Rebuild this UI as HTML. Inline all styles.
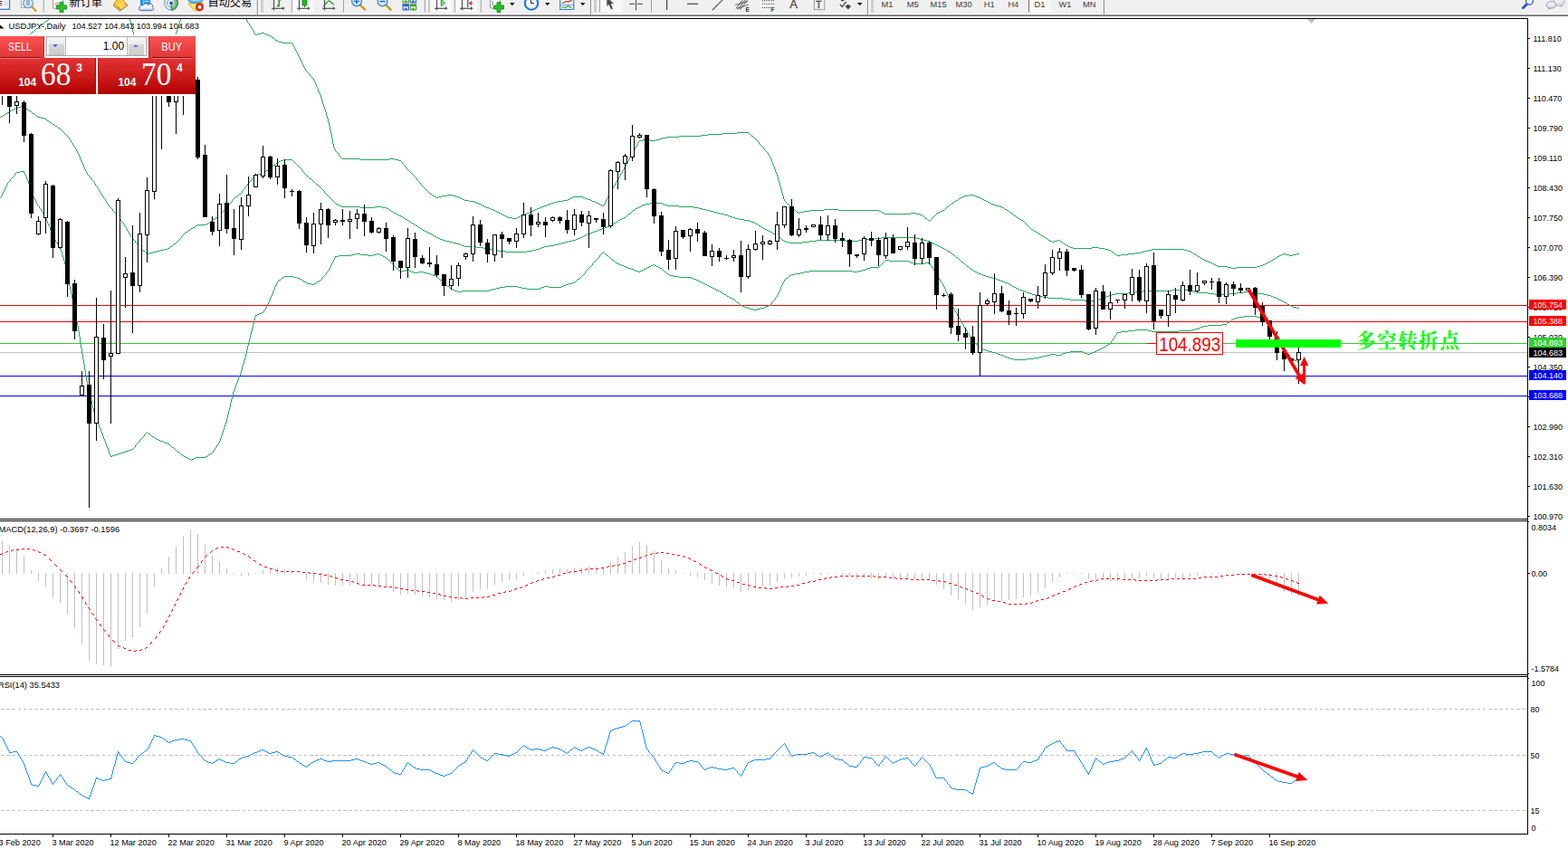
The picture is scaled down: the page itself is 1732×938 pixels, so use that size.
<!DOCTYPE html>
<html><head><meta charset="utf-8"><title>USDJPY Daily</title>
<style>
html,body{margin:0;padding:0;background:#fff;}
body{width:1732px;height:938px;overflow:hidden;position:relative;font-family:"Liberation Sans", sans-serif;}
#tb{position:absolute;left:0;top:0;width:1732px;height:18px;background:#f0f0f0;overflow:hidden}
#tb .l1{position:absolute;left:0;top:15px;width:100%;height:1px;background:#f6f6f6}
#tb .l2{position:absolute;left:0;top:16px;width:100%;height:1px;background:#a0a0a0}
#tb .l3{position:absolute;left:0;top:17px;width:100%;height:1px;background:#696969}
</style></head><body>
<svg width="1732" height="938" viewBox="0 0 1732 938" style="position:absolute;left:0;top:0"><g shape-rendering="crispEdges">
<rect x="0" y="20" width="1688" height="1" fill="#000"/>
<rect x="1687" y="20" width="1" height="902" fill="#000"/>
<rect x="0" y="573" width="1688" height="1" fill="#000"/>
<rect x="0" y="575" width="1688" height="1" fill="#000"/>
<rect x="0" y="745" width="1688" height="1" fill="#000"/>
<rect x="0" y="747" width="1688" height="1" fill="#000"/>
<rect x="0" y="921" width="1688" height="1" fill="#000"/>
<rect x="0" y="337" width="1687" height="1" fill="#ff0000"/>
<rect x="0" y="355" width="1687" height="1" fill="#ff0000"/>
<rect x="0" y="379" width="1687" height="1" fill="#32cd32"/>
<rect x="0" y="389" width="1687" height="1" fill="#c0c0c0"/>
<rect x="0" y="415" width="1687" height="1" fill="#0000ff"/>
<rect x="0" y="437" width="1687" height="1" fill="#0000ff"/>
</g>
<line x1="1" y1="783.5" x2="1687" y2="783.5" stroke="#c0c0c0" stroke-width="1" stroke-dasharray="3.5 2.7" shape-rendering="crispEdges"/>
<line x1="1" y1="834.5" x2="1687" y2="834.5" stroke="#c0c0c0" stroke-width="1" stroke-dasharray="3.5 2.7" shape-rendering="crispEdges"/>
<line x1="1" y1="895.5" x2="1687" y2="895.5" stroke="#c0c0c0" stroke-width="1" stroke-dasharray="3.5 2.7" shape-rendering="crispEdges"/>
<defs><clipPath id="cm"><rect x="0" y="21" width="1687" height="552"/></clipPath></defs>
<g clip-path="url(#cm)" shape-rendering="crispEdges" fill="none" stroke-width="1">
<path d="M206 10.5h60M60 12.5h77M50 23.5h2M45 27.5h2M40 31.5h2M35 35.5h2M288 36.5h4M284 37.5h4M292 37.5h2M282 38.5h2M294 38.5h3M297 39.5h2M300 41.5h2M0 42.5h3M3 43.5h5M8 44.5h4M304 44.5h2M12 45.5h5M306 45.5h2M17 46.5h5M308 46.5h4M22 47.5h3M312 47.5h11M163 81.5h2M814 146.5h13M798 147.5h16M782 148.5h16M774 149.5h8M750 150.5h24M830 150.5h2M736 151.5h14M732 152.5h4M728 153.5h4M710 154.5h8M724 154.5h4M706 155.5h4M718 155.5h6M378 175.5h20M430 175.5h6M398 176.5h32M436 176.5h4M440 177.5h3M475 214.5h2M494 215.5h6M1070 215.5h6M478 216.5h2M488 216.5h6M500 216.5h4M1065 216.5h5M1076 216.5h2M480 217.5h2M484 217.5h4M504 217.5h3M633 217.5h11M1063 217.5h2M1078 217.5h3M482 218.5h2M507 218.5h2M631 218.5h2M644 218.5h2M1061 218.5h2M1081 218.5h2M509 219.5h2M629 219.5h2M646 219.5h3M1059 219.5h2M1083 219.5h2M511 220.5h2M627 220.5h2M649 220.5h3M1085 220.5h2M513 221.5h5M622 221.5h5M652 221.5h2M1056 221.5h2M1087 221.5h2M518 222.5h6M616 222.5h6M654 222.5h3M1054 222.5h2M1089 222.5h2M524 223.5h2M612 223.5h4M657 223.5h2M1091 223.5h2M526 224.5h3M609 224.5h3M659 224.5h2M1051 224.5h2M1093 224.5h2M529 225.5h2M606 225.5h3M661 225.5h2M1095 225.5h2M531 226.5h2M604 226.5h2M663 226.5h2M1097 226.5h3M533 227.5h2M601 227.5h3M665 227.5h2M1100 227.5h4M535 228.5h2M598 228.5h3M1046 228.5h2M1104 228.5h3M537 229.5h3M596 229.5h2M1107 229.5h2M540 230.5h2M593 230.5h3M542 231.5h3M591 231.5h2M876 231.5h2M910 231.5h16M1110 231.5h2M545 232.5h2M589 232.5h2M894 232.5h16M926 232.5h45M1041 232.5h2M1112 232.5h2M547 233.5h2M587 233.5h2M888 233.5h6M971 233.5h2M1039 233.5h2M549 234.5h2M585 234.5h2M880 234.5h2M884 234.5h4M973 234.5h2M1037 234.5h2M551 235.5h2M582 235.5h3M882 235.5h2M975 235.5h2M1006 235.5h6M1035 235.5h2M1116 235.5h2M553 236.5h2M580 236.5h2M977 236.5h29M1012 236.5h4M555 237.5h2M577 237.5h3M1016 237.5h3M557 238.5h2M575 238.5h2M1120 238.5h2M559 239.5h2M573 239.5h2M561 240.5h5M571 240.5h2M1123 240.5h2M566 241.5h5M1022 241.5h2M1126 242.5h2M1128 243.5h2M1139 253.5h2M1142 255.5h2M1144 256.5h2M1147 258.5h2M1150 260.5h2M1152 261.5h2M1155 263.5h2M1158 265.5h2M1168 265.5h3M1160 266.5h2M1164 266.5h4M1162 267.5h2M1172 267.5h2M1176 270.5h2M1178 271.5h2M1180 272.5h2M1182 273.5h3M1206 273.5h8M1185 274.5h21M1214 274.5h6M1220 275.5h4M1272 275.5h36M1224 276.5h3M1268 276.5h4M1308 276.5h4M1264 277.5h4M1312 277.5h3M1228 278.5h2M1260 278.5h4M1315 278.5h2M1254 279.5h6M1246 280.5h8M1318 280.5h2M1417 280.5h3M1432 280.5h3M1232 281.5h2M1238 281.5h8M1320 281.5h2M1415 281.5h2M1420 281.5h4M1428 281.5h4M1234 282.5h4M1413 282.5h2M1424 282.5h4M1323 283.5h2M1411 283.5h2M1326 285.5h2M1408 285.5h2M1328 286.5h2M1406 286.5h2M1330 287.5h2M1332 288.5h2M1403 288.5h2M1334 289.5h3M1401 289.5h2M1337 290.5h2M1399 290.5h2M1339 291.5h2M1397 291.5h2M1341 292.5h2M1395 292.5h2M1343 293.5h2M1392 293.5h3M1345 294.5h11M1388 294.5h4M1356 295.5h4M1366 295.5h22M1360 296.5h6M25.5 46v1M26.5 45v1M27.5 44v1M28.5 43v1M29.5 41v2M30.5 40v1M31.5 39v1M32.5 38v1M33.5 37v1M34.5 36v1M37.5 34v1M38.5 33v1M39.5 32v1M42.5 30v1M43.5 29v1M44.5 28v1M47.5 26v1M48.5 25v1M49.5 24v1M52.5 22v1M53.5 21v1M54.5 20v1M55.5 18v2M56.5 17v1M57.5 16v1M58.5 14v2M59.5 13v1M137.5 13v1M138.5 14v2M139.5 16v1M140.5 17v1M141.5 18v2M142.5 20v1M143.5 21v2M144.5 23v4M145.5 27v4M146.5 31v4M147.5 35v4M148.5 39v3M149.5 42v3M150.5 45v2M151.5 47v3M152.5 50v3M153.5 53v3M154.5 56v3M155.5 59v2M156.5 61v3M157.5 64v3M158.5 67v3M159.5 70v3M160.5 73v2M161.5 75v3M162.5 78v3M163.5 82v1M165.5 80v1M166.5 79v1M167.5 78v1M168.5 77v1M169.5 76v1M170.5 75v1M171.5 74v1M172.5 73v1M173.5 72v1M174.5 71v1M175.5 69v2M176.5 68v1M177.5 67v1M178.5 66v1M179.5 65v1M180.5 64v1M181.5 63v1M182.5 62v1M183.5 61v1M184.5 60v1M185.5 59v1M186.5 57v2M187.5 55v2M188.5 52v3M189.5 49v3M190.5 47v2M191.5 44v3M192.5 41v3M193.5 39v2M194.5 36v3M195.5 33v3M196.5 30v3M197.5 26v4M198.5 23v3M199.5 21v2M200.5 19v2M201.5 18v1M202.5 16v2M203.5 14v2M204.5 13v1M205.5 11v2M266.5 11v2M267.5 13v2M268.5 15v1M269.5 16v2M270.5 18v2M271.5 20v1M272.5 21v2M273.5 23v2M274.5 25v1M275.5 26v2M276.5 28v1M277.5 29v2M278.5 31v2M279.5 33v1M280.5 34v2M281.5 36v2M299.5 40v1M302.5 42v1M303.5 43v1M323.5 48v2M324.5 50v2M325.5 52v2M326.5 54v2M327.5 56v2M328.5 58v2M329.5 60v2M330.5 62v2M331.5 64v2M332.5 66v2M333.5 68v2M334.5 70v2M335.5 72v2M336.5 74v2M337.5 76v2M338.5 78v1M339.5 79v1M340.5 80v1M341.5 81v1M342.5 82v2M343.5 84v1M344.5 85v1M345.5 86v1M346.5 87v2M347.5 89v2M348.5 91v2M349.5 93v3M350.5 96v2M351.5 98v3M352.5 101v2M353.5 103v2M354.5 105v3M355.5 108v3M356.5 111v4M357.5 115v3M358.5 118v3M359.5 121v3M360.5 124v4M361.5 128v3M362.5 131v4M363.5 135v4M364.5 139v5M365.5 144v4M366.5 148v5M367.5 153v6M368.5 159v4M369.5 163v2M370.5 165v2M371.5 167v1M372.5 168v1M373.5 169v1M374.5 170v2M375.5 172v1M376.5 173v1M377.5 174v1M443.5 178v1M444.5 179v2M445.5 181v1M446.5 182v1M447.5 183v1M448.5 184v2M449.5 186v1M450.5 187v1M451.5 188v1M452.5 189v1M453.5 190v1M454.5 191v1M455.5 192v1M456.5 193v1M457.5 194v1M458.5 195v1M459.5 196v1M460.5 197v2M461.5 199v1M462.5 200v1M463.5 201v1M464.5 202v2M465.5 204v1M466.5 205v1M467.5 206v1M468.5 207v1M469.5 208v1M470.5 209v1M471.5 210v1M472.5 211v1M473.5 212v1M474.5 213v1M477.5 215v1M667.5 225v2M668.5 223v2M669.5 221v2M670.5 219v2M671.5 217v2M672.5 215v2M673.5 213v2M674.5 212v1M675.5 210v2M676.5 208v2M677.5 206v2M678.5 205v1M679.5 203v2M680.5 201v2M681.5 199v2M682.5 198v1M683.5 196v2M684.5 194v2M685.5 192v2M686.5 191v1M687.5 189v2M688.5 187v2M689.5 185v2M690.5 184v1M691.5 182v2M692.5 180v2M693.5 178v2M694.5 176v2M695.5 174v2M696.5 172v2M697.5 170v2M698.5 169v1M699.5 167v2M700.5 165v2M701.5 163v2M702.5 162v1M703.5 160v2M704.5 158v2M705.5 156v2M827.5 147v1M828.5 148v1M829.5 149v1M832.5 151v1M833.5 152v1M834.5 153v1M835.5 154v1M836.5 155v1M837.5 156v1M838.5 157v2M839.5 159v1M840.5 160v1M841.5 161v1M842.5 162v1M843.5 163v1M844.5 164v2M845.5 166v1M846.5 167v1M847.5 168v1M848.5 169v2M849.5 171v1M850.5 172v2M851.5 174v2M852.5 176v3M853.5 179v3M854.5 182v2M855.5 184v3M856.5 187v3M857.5 190v2M858.5 192v3M859.5 195v4M860.5 199v3M861.5 202v4M862.5 206v3M863.5 209v4M864.5 213v3M865.5 216v4M866.5 220v2M867.5 222v1M868.5 223v1M869.5 224v1M870.5 225v1M871.5 226v1M872.5 227v1M873.5 228v1M874.5 229v1M875.5 230v1M878.5 232v1M879.5 233v1M1019.5 238v1M1020.5 239v1M1021.5 240v1M1024.5 242v1M1025.5 243v1M1026.5 244v1M1027.5 243v1M1028.5 242v1M1029.5 241v1M1030.5 240v1M1031.5 239v1M1032.5 238v1M1033.5 237v1M1034.5 236v1M1043.5 231v1M1044.5 230v1M1045.5 229v1M1048.5 227v1M1049.5 226v1M1050.5 225v1M1053.5 223v1M1058.5 220v1M1109.5 230v1M1114.5 233v1M1115.5 234v1M1118.5 236v1M1119.5 237v1M1122.5 239v1M1125.5 241v1M1130.5 244v1M1131.5 245v1M1132.5 246v1M1133.5 247v1M1134.5 248v1M1135.5 249v1M1136.5 250v1M1137.5 251v1M1138.5 252v1M1141.5 254v1M1146.5 257v1M1149.5 259v1M1154.5 262v1M1157.5 264v1M1171.5 266v1M1174.5 268v1M1175.5 269v1M1227.5 277v1M1230.5 279v1M1231.5 280v1M1317.5 279v1M1322.5 282v1M1325.5 284v1M1405.5 287v1M1410.5 284v1" stroke="#26a85c"/>
<path d="M23 117.5h2M20 118.5h3M25 118.5h2M17 119.5h3M27 119.5h2M15 120.5h2M29 120.5h2M13 121.5h2M11 122.5h2M32 122.5h2M8 124.5h2M6 125.5h2M36 125.5h2M3 127.5h2M1 128.5h2M40 128.5h2M42 129.5h3M45 130.5h4M49 131.5h2M52 133.5h2M55 135.5h2M58 137.5h2M61 139.5h2M64 141.5h2M313 176.5h10M310 177.5h3M308 178.5h2M306 179.5h2M302 182.5h2M296 187.5h2M294 188.5h2M291 190.5h2M288 191.5h3M284 192.5h4M282 193.5h2M342 197.5h2M350 204.5h2M264 214.5h2M260 217.5h2M718 224.5h14M371 225.5h2M713 225.5h5M732 225.5h2M373 226.5h2M710 226.5h3M734 226.5h3M375 227.5h2M708 227.5h2M737 227.5h13M377 228.5h21M414 228.5h8M706 228.5h2M750 228.5h16M398 229.5h16M422 229.5h5M704 229.5h2M766 229.5h6M427 230.5h2M702 230.5h2M772 230.5h4M776 231.5h4M430 232.5h2M699 232.5h2M780 232.5h4M432 233.5h2M784 233.5h4M788 234.5h4M435 235.5h2M792 235.5h4M437 236.5h2M694 236.5h2M796 236.5h4M439 237.5h2M800 237.5h4M441 238.5h2M804 238.5h2M443 239.5h2M806 239.5h3M238 240.5h2M689 240.5h2M809 240.5h3M446 241.5h2M687 241.5h2M812 241.5h4M235 242.5h2M448 242.5h2M685 242.5h2M816 242.5h6M683 243.5h2M822 243.5h6M451 244.5h2M828 244.5h2M231 245.5h2M680 245.5h2M830 245.5h3M454 246.5h2M678 246.5h2M833 246.5h2M228 247.5h2M456 247.5h2M835 247.5h2M218 248.5h10M675 248.5h2M216 249.5h2M459 249.5h2M673 249.5h2M838 249.5h2M670 250.5h3M840 250.5h2M213 251.5h2M462 251.5h2M668 251.5h2M211 252.5h2M464 252.5h2M665 252.5h3M843 252.5h2M662 253.5h3M845 253.5h2M208 254.5h2M467 254.5h2M660 254.5h2M847 254.5h2M469 255.5h2M657 255.5h3M849 255.5h2M205 256.5h2M471 256.5h2M654 256.5h3M851 256.5h2M473 257.5h2M652 257.5h2M475 258.5h2M649 258.5h3M854 258.5h2M647 259.5h2M856 259.5h2M478 260.5h2M645 260.5h2M480 261.5h2M643 261.5h2M482 262.5h2M641 262.5h2M860 262.5h2M974 262.5h38M484 263.5h2M638 263.5h3M966 263.5h8M1012 263.5h4M486 264.5h3M636 264.5h2M952 264.5h14M1016 264.5h4M489 265.5h3M632 265.5h4M864 265.5h2M902 265.5h32M948 265.5h4M1020 265.5h4M492 266.5h4M628 266.5h4M866 266.5h2M894 266.5h8M934 266.5h14M1024 266.5h3M496 267.5h4M624 267.5h4M868 267.5h4M886 267.5h8M1027 267.5h2M500 268.5h4M620 268.5h4M872 268.5h14M1029 268.5h2M192 269.5h2M504 269.5h4M616 269.5h4M1031 269.5h2M508 270.5h2M612 270.5h4M1033 270.5h2M510 271.5h3M606 271.5h6M1035 271.5h2M188 272.5h2M513 272.5h13M601 272.5h5M1037 272.5h2M526 273.5h8M598 273.5h3M1039 273.5h2M185 274.5h2M534 274.5h6M596 274.5h2M1041 274.5h2M181 275.5h4M540 275.5h4M592 275.5h4M1043 275.5h2M177 276.5h4M544 276.5h6M588 276.5h4M158 277.5h2M173 277.5h4M550 277.5h8M582 277.5h6M1046 277.5h2M169 278.5h4M558 278.5h24M1048 278.5h2M161 279.5h2M165 279.5h4M163 280.5h2M1052 281.5h2M1056 284.5h2M1062 289.5h2M1068 294.5h2M1072 297.5h2M1075 299.5h2M1077 300.5h2M1079 301.5h2M1081 302.5h3M1084 303.5h2M1086 304.5h3M1089 305.5h3M1092 306.5h4M1096 307.5h4M1100 308.5h2M1102 309.5h3M1105 310.5h3M1108 311.5h2M1110 312.5h3M1113 313.5h2M1115 314.5h2M1118 316.5h2M1120 317.5h2M1122 318.5h2M1124 319.5h2M1126 320.5h3M1294 320.5h22M1129 321.5h3M1262 321.5h32M1316 321.5h2M1132 322.5h2M1254 322.5h8M1318 322.5h3M1374 322.5h8M1134 323.5h3M1246 323.5h8M1321 323.5h13M1366 323.5h8M1382 323.5h8M1137 324.5h3M1232 324.5h14M1334 324.5h8M1358 324.5h8M1390 324.5h6M1140 325.5h4M1228 325.5h4M1342 325.5h16M1396 325.5h4M1144 326.5h4M1225 326.5h3M1400 326.5h4M1148 327.5h4M1222 327.5h3M1404 327.5h2M1152 328.5h6M1220 328.5h2M1406 328.5h3M1158 329.5h16M1217 329.5h3M1409 329.5h2M1174 330.5h8M1214 330.5h3M1411 330.5h2M1182 331.5h16M1212 331.5h2M1413 331.5h2M1198 332.5h14M1415 332.5h2M1417 333.5h2M1419 334.5h2M1422 336.5h2M1424 337.5h2M1426 338.5h2M1428 339.5h4M1432 340.5h3M0.5 129v1M5.5 126v1M10.5 123v1M31.5 121v1M34.5 123v1M35.5 124v1M38.5 126v1M39.5 127v1M51.5 132v1M54.5 134v1M57.5 136v1M60.5 138v1M63.5 140v1M66.5 142v1M67.5 143v1M68.5 144v1M69.5 145v1M70.5 146v1M71.5 147v1M72.5 148v1M73.5 149v1M74.5 150v1M75.5 151v1M76.5 152v2M77.5 154v1M78.5 155v2M79.5 157v1M80.5 158v2M81.5 160v2M82.5 162v1M83.5 163v2M84.5 165v2M85.5 167v2M86.5 169v2M87.5 171v2M88.5 173v3M89.5 176v2M90.5 178v2M91.5 180v2M92.5 182v3M93.5 185v2M94.5 187v2M95.5 189v2M96.5 191v2M97.5 193v1M98.5 194v1M99.5 195v1M100.5 196v2M101.5 198v1M102.5 199v1M103.5 200v1M104.5 201v2M105.5 203v2M106.5 205v1M107.5 206v2M108.5 208v1M109.5 209v2M110.5 211v2M111.5 213v1M112.5 214v2M113.5 216v1M114.5 217v2M115.5 219v1M116.5 220v2M117.5 222v2M118.5 224v1M119.5 225v2M120.5 227v1M121.5 228v1M122.5 229v1M123.5 230v1M124.5 231v2M125.5 233v1M126.5 234v1M127.5 235v1M128.5 236v1M129.5 237v2M130.5 239v1M131.5 240v1M132.5 241v1M133.5 242v2M134.5 244v1M135.5 245v1M136.5 246v2M137.5 248v2M138.5 250v1M139.5 251v2M140.5 253v2M141.5 255v1M142.5 256v2M143.5 258v2M144.5 260v1M145.5 261v1M146.5 262v2M147.5 264v1M148.5 265v1M149.5 266v2M150.5 268v1M151.5 269v1M152.5 270v1M153.5 271v1M154.5 272v2M155.5 274v1M156.5 275v1M157.5 276v1M160.5 278v1M187.5 273v1M190.5 271v1M191.5 270v1M194.5 268v1M195.5 267v1M196.5 266v1M197.5 265v1M198.5 264v1M199.5 263v1M200.5 261v2M201.5 260v1M202.5 259v1M203.5 258v1M204.5 257v1M207.5 255v1M210.5 253v1M215.5 250v1M230.5 246v1M233.5 244v1M234.5 243v1M237.5 241v1M240.5 239v1M241.5 238v1M242.5 237v1M243.5 236v1M244.5 235v1M245.5 234v1M246.5 233v1M247.5 232v1M248.5 231v1M249.5 230v1M250.5 229v1M251.5 227v2M252.5 226v1M253.5 225v1M254.5 224v1M255.5 223v1M256.5 221v2M257.5 220v1M258.5 219v1M259.5 218v1M262.5 216v1M263.5 215v1M266.5 213v1M267.5 211v2M268.5 210v1M269.5 209v1M270.5 207v2M271.5 206v1M272.5 205v1M273.5 203v2M274.5 202v1M275.5 201v1M276.5 200v1M277.5 199v1M278.5 197v2M279.5 196v1M280.5 195v1M281.5 194v1M293.5 189v1M298.5 186v1M299.5 185v1M300.5 184v1M301.5 183v1M304.5 181v1M305.5 180v1M323.5 177v1M324.5 178v1M325.5 179v1M326.5 180v1M327.5 181v1M328.5 182v1M329.5 183v1M330.5 184v1M331.5 185v1M332.5 186v1M333.5 187v1M334.5 188v2M335.5 190v1M336.5 191v1M337.5 192v1M338.5 193v1M339.5 194v1M340.5 195v1M341.5 196v1M344.5 198v1M345.5 199v1M346.5 200v1M347.5 201v1M348.5 202v1M349.5 203v1M352.5 205v1M353.5 206v1M354.5 207v1M355.5 208v1M356.5 209v1M357.5 210v1M358.5 211v2M359.5 213v1M360.5 214v1M361.5 215v1M362.5 216v1M363.5 217v1M364.5 218v1M365.5 219v1M366.5 220v1M367.5 221v1M368.5 222v1M369.5 223v1M370.5 224v1M429.5 231v1M434.5 234v1M445.5 240v1M450.5 243v1M453.5 245v1M458.5 248v1M461.5 250v1M466.5 253v1M477.5 259v1M677.5 247v1M682.5 244v1M691.5 239v1M692.5 238v1M693.5 237v1M696.5 235v1M697.5 234v1M698.5 233v1M701.5 231v1M837.5 248v1M842.5 251v1M853.5 257v1M858.5 260v1M859.5 261v1M862.5 263v1M863.5 264v1M1045.5 276v1M1050.5 279v1M1051.5 280v1M1054.5 282v1M1055.5 283v1M1058.5 285v1M1059.5 286v1M1060.5 287v1M1061.5 288v1M1064.5 290v1M1065.5 291v1M1066.5 292v1M1067.5 293v1M1070.5 295v1M1071.5 296v1M1074.5 298v1M1117.5 315v1M1421.5 335v1" stroke="#26a85c"/>
<path d="M22 189.5h5M18 190.5h4M392 280.5h6M416 280.5h3M388 281.5h4M398 281.5h8M412 281.5h4M419 281.5h2M374 282.5h14M406 282.5h6M421 282.5h2M670 282.5h2M370 283.5h4M423 283.5h2M425 284.5h2M676 287.5h2M978 287.5h4M982 288.5h22M1004 289.5h2M680 290.5h2M1006 290.5h3M1022 290.5h5M682 291.5h2M1009 291.5h13M684 292.5h2M721 292.5h2M686 293.5h3M719 293.5h2M723 293.5h2M689 294.5h3M717 294.5h2M725 294.5h2M692 295.5h2M715 295.5h2M727 295.5h2M961 295.5h10M694 296.5h3M713 296.5h2M729 296.5h2M958 296.5h3M697 297.5h3M711 297.5h2M956 297.5h2M448 298.5h4M700 298.5h2M709 298.5h2M952 298.5h4M444 299.5h4M452 299.5h2M702 299.5h3M707 299.5h2M894 299.5h48M948 299.5h4M442 300.5h2M454 300.5h3M462 300.5h6M705 300.5h2M734 300.5h2M888 300.5h6M942 300.5h6M457 301.5h5M468 301.5h4M884 301.5h4M472 302.5h4M878 302.5h6M476 303.5h2M738 303.5h2M874 303.5h4M478 304.5h3M740 304.5h4M872 304.5h2M314 305.5h10M481 305.5h2M744 305.5h6M312 306.5h2M324 306.5h4M750 306.5h14M328 307.5h3M764 307.5h2M868 307.5h2M331 308.5h2M638 308.5h2M766 308.5h3M308 309.5h2M486 309.5h2M769 309.5h2M334 310.5h2M352 310.5h2M771 310.5h2M336 311.5h2M350 311.5h2M773 311.5h2M338 312.5h2M632 312.5h3M775 312.5h2M340 313.5h4M347 313.5h2M628 313.5h4M777 313.5h2M344 314.5h3M625 314.5h3M779 314.5h2M622 315.5h3M781 315.5h2M494 316.5h2M558 316.5h14M601 316.5h5M620 316.5h2M783 316.5h2M552 317.5h6M572 317.5h4M598 317.5h3M606 317.5h14M785 317.5h2M548 318.5h4M576 318.5h6M596 318.5h2M787 318.5h2M498 319.5h2M544 319.5h4M582 319.5h14M789 319.5h2M500 320.5h2M540 320.5h4M791 320.5h2M502 321.5h3M510 321.5h30M793 321.5h2M505 322.5h5M795 322.5h2M798 324.5h2M800 325.5h2M803 327.5h2M805 328.5h2M807 329.5h2M809 330.5h2M814 334.5h2M818 337.5h2M849 337.5h2M820 338.5h2M846 338.5h3M822 339.5h3M844 339.5h2M825 340.5h3M840 340.5h4M828 341.5h4M836 341.5h4M832 342.5h4M289 345.5h2M286 346.5h3M284 347.5h2M282 348.5h2M1374 349.5h14M1368 350.5h6M1388 350.5h4M1364 351.5h4M1392 351.5h3M1362 352.5h2M1360 353.5h2M1356 356.5h2M1350 358.5h5M1334 359.5h16M1329 360.5h5M1326 361.5h3M1324 362.5h2M1320 363.5h4M1254 364.5h14M1316 364.5h4M1246 365.5h8M1268 365.5h4M1302 365.5h14M1238 366.5h8M1272 366.5h30M1234 367.5h4M1224 380.5h2M1222 381.5h2M1219 383.5h2M1082 384.5h2M1217 384.5h2M1084 385.5h2M1215 385.5h2M1086 386.5h3M1213 386.5h2M1089 387.5h3M1211 387.5h2M1092 388.5h4M1182 388.5h14M1209 388.5h2M1096 389.5h4M1177 389.5h5M1196 389.5h2M1206 389.5h3M1100 390.5h2M1174 390.5h3M1198 390.5h3M1204 390.5h2M1102 391.5h3M1160 391.5h6M1172 391.5h2M1201 391.5h3M1105 392.5h3M1156 392.5h4M1166 392.5h6M1108 393.5h2M1152 393.5h4M1110 394.5h3M1148 394.5h4M1113 395.5h3M1142 395.5h6M1116 396.5h4M1134 396.5h8M1427 396.5h2M1120 397.5h14M1430 398.5h2M1432 399.5h2M164 479.5h2M168 482.5h2M171 484.5h2M173 485.5h2M175 486.5h2M177 487.5h3M180 488.5h2M182 489.5h3M185 490.5h2M190 494.5h2M145 496.5h2M142 497.5h3M139 498.5h3M136 499.5h3M196 499.5h2M133 500.5h3M130 501.5h3M232 501.5h2M127 502.5h3M200 502.5h2M230 502.5h2M124 503.5h3M122 504.5h2M203 504.5h2M227 504.5h2M205 505.5h2M216 505.5h11M207 506.5h2M214 506.5h2M209 507.5h2M212 507.5h2M0.5 218v1M1.5 216v2M2.5 214v2M3.5 212v2M4.5 210v2M5.5 208v2M6.5 206v2M7.5 204v2M8.5 202v2M9.5 201v1M10.5 200v1M11.5 198v2M12.5 197v1M13.5 196v1M14.5 195v1M15.5 194v1M16.5 192v2M17.5 191v1M26.5 190v1M27.5 191v2M28.5 193v2M29.5 195v3M30.5 198v2M31.5 200v3M32.5 203v3M33.5 206v3M34.5 209v3M35.5 212v3M36.5 215v2M37.5 217v2M38.5 219v2M39.5 221v2M40.5 223v2M41.5 225v2M42.5 227v1M43.5 228v2M44.5 230v1M45.5 231v2M46.5 233v1M47.5 234v2M48.5 236v2M49.5 238v2M50.5 240v2M51.5 242v2M52.5 244v3M53.5 247v2M54.5 249v2M55.5 251v3M56.5 254v2M57.5 256v2M58.5 258v3M59.5 261v2M60.5 263v2M61.5 265v2M62.5 267v1M63.5 268v2M64.5 270v1M65.5 271v2M66.5 273v2M67.5 275v3M68.5 278v4M69.5 282v3M70.5 285v3M71.5 288v4M72.5 292v4M73.5 296v5M74.5 301v5M75.5 306v5M76.5 311v5M77.5 316v4M78.5 320v5M79.5 325v5M80.5 330v5M81.5 335v5M82.5 340v5M83.5 345v5M84.5 350v5M85.5 355v5M86.5 360v6M87.5 366v6M88.5 372v7M89.5 379v6M90.5 385v6M91.5 391v6M92.5 397v6M93.5 403v6M94.5 409v6M95.5 415v6M96.5 421v6M97.5 427v4M98.5 431v4M99.5 435v4M100.5 439v4M101.5 443v4M102.5 447v4M103.5 451v4M104.5 455v4M105.5 459v3M106.5 462v2M107.5 464v3M108.5 467v2M109.5 469v3M110.5 472v2M111.5 474v3M112.5 477v2M113.5 479v3M114.5 482v3M115.5 485v2M116.5 487v3M117.5 490v3M118.5 493v2M119.5 495v3M120.5 498v3M121.5 501v2M122.5 503v1M147.5 495v1M148.5 494v1M149.5 492v2M150.5 491v1M151.5 490v1M152.5 489v1M153.5 488v1M154.5 486v2M155.5 485v1M156.5 484v1M157.5 483v1M158.5 482v1M159.5 480v2M160.5 479v1M161.5 478v1M162.5 477v1M163.5 478v1M166.5 480v1M167.5 481v1M170.5 483v1M187.5 491v1M188.5 492v1M189.5 493v1M192.5 495v1M193.5 496v1M194.5 497v1M195.5 498v1M198.5 500v1M199.5 501v1M202.5 503v1M211.5 508v1M229.5 503v1M234.5 500v1M235.5 498v2M236.5 497v1M237.5 495v2M238.5 494v1M239.5 492v2M240.5 491v1M241.5 489v2M242.5 487v2M243.5 484v3M244.5 481v3M245.5 478v3M246.5 475v3M247.5 472v3M248.5 469v3M249.5 466v3M250.5 462v4M251.5 458v4M252.5 454v4M253.5 450v4M254.5 445v5M255.5 441v4M256.5 437v4M257.5 433v4M258.5 431v2M259.5 428v3M260.5 425v3M261.5 423v2M262.5 420v3M263.5 417v3M264.5 415v2M265.5 412v3M266.5 409v3M267.5 405v4M268.5 402v3M269.5 398v4M270.5 395v3M271.5 391v4M272.5 387v4M273.5 382v5M274.5 378v4M275.5 374v4M276.5 370v4M277.5 366v4M278.5 362v4M279.5 358v4M280.5 354v4M281.5 350v4M282.5 349v1M291.5 343v2M292.5 342v1M293.5 340v2M294.5 338v2M295.5 336v2M296.5 334v2M297.5 332v2M298.5 329v3M299.5 327v2M300.5 325v2M301.5 322v3M302.5 320v2M303.5 317v3M304.5 315v2M305.5 313v2M306.5 311v2M307.5 310v1M310.5 308v1M311.5 307v1M333.5 309v1M349.5 312v1M354.5 309v1M355.5 308v1M356.5 306v2M357.5 305v1M358.5 304v1M359.5 303v1M360.5 301v2M361.5 300v1M362.5 299v1M363.5 297v2M364.5 295v2M365.5 293v2M366.5 291v2M367.5 289v2M368.5 287v2M369.5 285v2M370.5 284v1M427.5 285v1M428.5 286v1M429.5 287v1M430.5 288v1M431.5 289v1M432.5 290v1M433.5 291v1M434.5 292v1M435.5 293v1M436.5 294v1M437.5 295v1M438.5 296v1M439.5 297v1M440.5 298v1M441.5 299v1M483.5 306v1M484.5 307v1M485.5 308v1M488.5 310v1M489.5 311v1M490.5 312v1M491.5 313v1M492.5 314v1M493.5 315v1M496.5 317v1M497.5 318v1M635.5 311v1M636.5 310v1M637.5 309v1M640.5 307v1M641.5 306v1M642.5 305v1M643.5 304v1M644.5 303v1M645.5 302v1M646.5 300v2M647.5 299v1M648.5 298v1M649.5 297v1M650.5 296v1M651.5 295v1M652.5 294v1M653.5 293v1M654.5 291v2M655.5 290v1M656.5 289v1M657.5 288v1M658.5 287v1M659.5 286v1M660.5 285v1M661.5 284v1M662.5 282v2M663.5 281v1M664.5 280v1M665.5 279v1M666.5 278v1M667.5 279v1M668.5 280v1M669.5 281v1M672.5 283v1M673.5 284v1M674.5 285v1M675.5 286v1M678.5 288v1M679.5 289v1M731.5 297v1M732.5 298v1M733.5 299v1M736.5 301v1M737.5 302v1M797.5 323v1M802.5 326v1M811.5 331v1M812.5 332v1M813.5 333v1M816.5 335v1M817.5 336v1M851.5 336v1M852.5 334v2M853.5 333v1M854.5 332v1M855.5 331v1M856.5 329v2M857.5 328v1M858.5 326v2M859.5 324v2M860.5 322v2M861.5 320v2M862.5 317v3M863.5 315v2M864.5 313v2M865.5 311v2M866.5 309v2M867.5 308v1M870.5 306v1M871.5 305v1M971.5 294v1M972.5 293v1M973.5 292v1M974.5 291v1M975.5 290v1M976.5 289v1M977.5 288v1M1027.5 291v2M1028.5 293v1M1029.5 294v2M1030.5 296v1M1031.5 297v2M1032.5 299v1M1033.5 300v2M1034.5 302v1M1035.5 303v2M1036.5 305v2M1037.5 307v2M1038.5 309v2M1039.5 311v1M1040.5 312v1M1041.5 313v2M1042.5 315v2M1043.5 317v2M1044.5 319v3M1045.5 322v2M1046.5 324v3M1047.5 327v2M1048.5 329v3M1049.5 332v2M1050.5 334v2M1051.5 336v2M1052.5 338v2M1053.5 340v1M1054.5 341v2M1055.5 343v2M1056.5 345v2M1057.5 347v2M1058.5 349v1M1059.5 350v2M1060.5 352v2M1061.5 354v2M1062.5 356v1M1063.5 357v2M1064.5 359v2M1065.5 361v2M1066.5 363v1M1067.5 364v2M1068.5 366v2M1069.5 368v1M1070.5 369v2M1071.5 371v1M1072.5 372v2M1073.5 374v2M1074.5 376v1M1075.5 377v1M1076.5 378v1M1077.5 379v1M1078.5 380v1M1079.5 381v1M1080.5 382v1M1081.5 383v1M1221.5 382v1M1226.5 379v1M1227.5 377v2M1228.5 376v1M1229.5 374v2M1230.5 373v1M1231.5 371v2M1232.5 370v1M1233.5 368v2M1355.5 357v1M1358.5 355v1M1359.5 354v1M1395.5 352v1M1396.5 353v2M1397.5 355v1M1398.5 356v1M1399.5 357v1M1400.5 358v2M1401.5 360v1M1402.5 361v1M1403.5 362v2M1404.5 364v1M1405.5 365v2M1406.5 367v1M1407.5 368v2M1408.5 370v1M1409.5 371v2M1410.5 373v1M1411.5 374v2M1412.5 376v1M1413.5 377v2M1414.5 379v1M1415.5 380v2M1416.5 382v1M1417.5 383v2M1418.5 385v1M1419.5 386v1M1420.5 387v2M1421.5 389v1M1422.5 390v1M1423.5 391v1M1424.5 392v2M1425.5 394v1M1426.5 395v1M1429.5 397v1M1434.5 400v1" stroke="#26a85c"/>
</g>
<g shape-rendering="crispEdges" clip-path="url(#cm)">
<rect x="2" y="60" width="1" height="56" fill="#000"/>
<rect x="0" y="70" width="5" height="30" fill="#000"/>
<rect x="10" y="80" width="1" height="56" fill="#000"/>
<rect x="8" y="95" width="5" height="23" fill="#000"/>
<rect x="18" y="95" width="1" height="31" fill="#000"/>
<rect x="16" y="112" width="5" height="5" fill="#000"/>
<rect x="17" y="113" width="3" height="3" fill="#fff"/>
<rect x="26" y="111" width="1" height="46" fill="#000"/>
<rect x="24" y="113" width="5" height="37" fill="#000"/>
<rect x="34" y="147" width="1" height="94" fill="#000"/>
<rect x="32" y="148" width="5" height="88" fill="#000"/>
<rect x="42" y="239" width="1" height="21" fill="#000"/>
<rect x="40" y="244" width="5" height="15" fill="#000"/>
<rect x="41" y="245" width="3" height="13" fill="#fff"/>
<rect x="50" y="200" width="1" height="58" fill="#000"/>
<rect x="48" y="203" width="5" height="38" fill="#000"/>
<rect x="49" y="204" width="3" height="36" fill="#fff"/>
<rect x="58" y="204" width="1" height="81" fill="#000"/>
<rect x="56" y="205" width="5" height="69" fill="#000"/>
<rect x="66" y="241" width="1" height="34" fill="#000"/>
<rect x="64" y="242" width="5" height="32" fill="#000"/>
<rect x="65" y="243" width="3" height="30" fill="#fff"/>
<rect x="74" y="244" width="1" height="84" fill="#000"/>
<rect x="72" y="245" width="5" height="69" fill="#000"/>
<rect x="82" y="309" width="1" height="66" fill="#000"/>
<rect x="80" y="313" width="5" height="53" fill="#000"/>
<rect x="90" y="410" width="1" height="28" fill="#000"/>
<rect x="88" y="426" width="5" height="11" fill="#000"/>
<rect x="89" y="427" width="3" height="9" fill="#fff"/>
<rect x="98" y="410" width="1" height="151" fill="#000"/>
<rect x="96" y="425" width="5" height="43" fill="#000"/>
<rect x="106" y="329" width="1" height="158" fill="#000"/>
<rect x="104" y="372" width="5" height="96" fill="#000"/>
<rect x="105" y="373" width="3" height="94" fill="#fff"/>
<rect x="114" y="358" width="1" height="61" fill="#000"/>
<rect x="112" y="373" width="5" height="25" fill="#000"/>
<rect x="122" y="321" width="1" height="147" fill="#000"/>
<rect x="120" y="390" width="5" height="4" fill="#000"/>
<rect x="121" y="391" width="3" height="2" fill="#fff"/>
<rect x="130" y="219" width="1" height="172" fill="#000"/>
<rect x="128" y="221" width="5" height="170" fill="#000"/>
<rect x="129" y="222" width="3" height="168" fill="#fff"/>
<rect x="138" y="284" width="1" height="56" fill="#000"/>
<rect x="136" y="302" width="5" height="5" fill="#000"/>
<rect x="137" y="303" width="3" height="3" fill="#fff"/>
<rect x="146" y="249" width="1" height="119" fill="#000"/>
<rect x="144" y="301" width="5" height="15" fill="#000"/>
<rect x="154" y="235" width="1" height="88" fill="#000"/>
<rect x="152" y="258" width="5" height="58" fill="#000"/>
<rect x="153" y="259" width="3" height="56" fill="#fff"/>
<rect x="162" y="196" width="1" height="94" fill="#000"/>
<rect x="160" y="210" width="5" height="50" fill="#000"/>
<rect x="161" y="211" width="3" height="48" fill="#fff"/>
<rect x="170" y="70" width="1" height="150" fill="#000"/>
<rect x="168" y="85" width="5" height="127" fill="#000"/>
<rect x="169" y="86" width="3" height="125" fill="#fff"/>
<rect x="178" y="60" width="1" height="105" fill="#000"/>
<rect x="176" y="75" width="5" height="26" fill="#000"/>
<rect x="177" y="76" width="3" height="24" fill="#fff"/>
<rect x="186" y="60" width="1" height="58" fill="#000"/>
<rect x="184" y="70" width="5" height="43" fill="#000"/>
<rect x="194" y="55" width="1" height="93" fill="#000"/>
<rect x="192" y="65" width="5" height="48" fill="#000"/>
<rect x="193" y="66" width="3" height="46" fill="#fff"/>
<rect x="202" y="60" width="1" height="67" fill="#000"/>
<rect x="200" y="70" width="5" height="30" fill="#000"/>
<rect x="210" y="50" width="1" height="45" fill="#000"/>
<rect x="208" y="55" width="5" height="34" fill="#000"/>
<rect x="209" y="56" width="3" height="32" fill="#fff"/>
<rect x="218" y="85" width="1" height="91" fill="#000"/>
<rect x="216" y="88" width="5" height="86" fill="#000"/>
<rect x="226" y="160" width="1" height="80" fill="#000"/>
<rect x="224" y="171" width="5" height="69" fill="#000"/>
<rect x="234" y="239" width="1" height="21" fill="#000"/>
<rect x="232" y="245" width="5" height="11" fill="#000"/>
<rect x="242" y="214" width="1" height="58" fill="#000"/>
<rect x="240" y="225" width="5" height="30" fill="#000"/>
<rect x="241" y="226" width="3" height="28" fill="#fff"/>
<rect x="250" y="193" width="1" height="65" fill="#000"/>
<rect x="248" y="224" width="5" height="29" fill="#000"/>
<rect x="258" y="231" width="1" height="51" fill="#000"/>
<rect x="256" y="252" width="5" height="12" fill="#000"/>
<rect x="266" y="218" width="1" height="58" fill="#000"/>
<rect x="264" y="227" width="5" height="38" fill="#000"/>
<rect x="265" y="228" width="3" height="36" fill="#fff"/>
<rect x="274" y="195" width="1" height="44" fill="#000"/>
<rect x="272" y="215" width="5" height="13" fill="#000"/>
<rect x="273" y="216" width="3" height="11" fill="#fff"/>
<rect x="282" y="192" width="1" height="15" fill="#000"/>
<rect x="280" y="193" width="5" height="14" fill="#000"/>
<rect x="281" y="194" width="3" height="12" fill="#fff"/>
<rect x="290" y="161" width="1" height="36" fill="#000"/>
<rect x="288" y="173" width="5" height="22" fill="#000"/>
<rect x="289" y="174" width="3" height="20" fill="#fff"/>
<rect x="298" y="172" width="1" height="26" fill="#000"/>
<rect x="296" y="173" width="5" height="23" fill="#000"/>
<rect x="306" y="175" width="1" height="29" fill="#000"/>
<rect x="304" y="183" width="5" height="13" fill="#000"/>
<rect x="305" y="184" width="3" height="11" fill="#fff"/>
<rect x="314" y="176" width="1" height="43" fill="#000"/>
<rect x="312" y="182" width="5" height="26" fill="#000"/>
<rect x="322" y="209" width="1" height="8" fill="#000"/>
<rect x="320" y="211" width="5" height="1" fill="#000"/>
<rect x="330" y="210" width="1" height="43" fill="#000"/>
<rect x="328" y="211" width="5" height="36" fill="#000"/>
<rect x="338" y="240" width="1" height="39" fill="#000"/>
<rect x="336" y="246" width="5" height="25" fill="#000"/>
<rect x="346" y="235" width="1" height="45" fill="#000"/>
<rect x="344" y="247" width="5" height="25" fill="#000"/>
<rect x="345" y="248" width="3" height="23" fill="#fff"/>
<rect x="354" y="224" width="1" height="46" fill="#000"/>
<rect x="352" y="231" width="5" height="17" fill="#000"/>
<rect x="353" y="232" width="3" height="15" fill="#fff"/>
<rect x="362" y="230" width="1" height="33" fill="#000"/>
<rect x="360" y="231" width="5" height="18" fill="#000"/>
<rect x="370" y="242" width="1" height="7" fill="#000"/>
<rect x="368" y="243" width="5" height="3" fill="#000"/>
<rect x="369" y="244" width="3" height="1" fill="#fff"/>
<rect x="378" y="231" width="1" height="18" fill="#000"/>
<rect x="376" y="243" width="5" height="2" fill="#000"/>
<rect x="386" y="233" width="1" height="31" fill="#000"/>
<rect x="384" y="242" width="5" height="3" fill="#000"/>
<rect x="385" y="243" width="3" height="1" fill="#fff"/>
<rect x="394" y="231" width="1" height="22" fill="#000"/>
<rect x="392" y="236" width="5" height="6" fill="#000"/>
<rect x="393" y="237" width="3" height="4" fill="#fff"/>
<rect x="402" y="226" width="1" height="35" fill="#000"/>
<rect x="400" y="236" width="5" height="9" fill="#000"/>
<rect x="410" y="240" width="1" height="18" fill="#000"/>
<rect x="408" y="244" width="5" height="13" fill="#000"/>
<rect x="418" y="251" width="1" height="7" fill="#000"/>
<rect x="416" y="252" width="5" height="5" fill="#000"/>
<rect x="417" y="253" width="3" height="3" fill="#fff"/>
<rect x="426" y="246" width="1" height="32" fill="#000"/>
<rect x="424" y="252" width="5" height="12" fill="#000"/>
<rect x="434" y="260" width="1" height="39" fill="#000"/>
<rect x="432" y="262" width="5" height="27" fill="#000"/>
<rect x="442" y="288" width="1" height="20" fill="#000"/>
<rect x="440" y="288" width="5" height="8" fill="#000"/>
<rect x="450" y="252" width="1" height="55" fill="#000"/>
<rect x="448" y="263" width="5" height="33" fill="#000"/>
<rect x="449" y="264" width="3" height="31" fill="#fff"/>
<rect x="458" y="257" width="1" height="39" fill="#000"/>
<rect x="456" y="264" width="5" height="20" fill="#000"/>
<rect x="466" y="282" width="1" height="10" fill="#000"/>
<rect x="464" y="285" width="5" height="6" fill="#000"/>
<rect x="474" y="273" width="1" height="22" fill="#000"/>
<rect x="472" y="290" width="5" height="2" fill="#000"/>
<rect x="482" y="282" width="1" height="24" fill="#000"/>
<rect x="480" y="292" width="5" height="12" fill="#000"/>
<rect x="490" y="303" width="1" height="24" fill="#000"/>
<rect x="488" y="303" width="5" height="13" fill="#000"/>
<rect x="498" y="293" width="1" height="27" fill="#000"/>
<rect x="496" y="308" width="5" height="8" fill="#000"/>
<rect x="497" y="309" width="3" height="6" fill="#fff"/>
<rect x="506" y="290" width="1" height="26" fill="#000"/>
<rect x="504" y="293" width="5" height="15" fill="#000"/>
<rect x="505" y="294" width="3" height="13" fill="#fff"/>
<rect x="514" y="279" width="1" height="8" fill="#000"/>
<rect x="512" y="280" width="5" height="4" fill="#000"/>
<rect x="513" y="281" width="3" height="2" fill="#fff"/>
<rect x="522" y="239" width="1" height="50" fill="#000"/>
<rect x="520" y="248" width="5" height="33" fill="#000"/>
<rect x="521" y="249" width="3" height="31" fill="#fff"/>
<rect x="530" y="243" width="1" height="29" fill="#000"/>
<rect x="528" y="248" width="5" height="20" fill="#000"/>
<rect x="538" y="264" width="1" height="26" fill="#000"/>
<rect x="536" y="268" width="5" height="13" fill="#000"/>
<rect x="546" y="259" width="1" height="30" fill="#000"/>
<rect x="544" y="259" width="5" height="23" fill="#000"/>
<rect x="545" y="260" width="3" height="21" fill="#fff"/>
<rect x="554" y="256" width="1" height="29" fill="#000"/>
<rect x="552" y="259" width="5" height="5" fill="#000"/>
<rect x="562" y="263" width="1" height="7" fill="#000"/>
<rect x="560" y="263" width="5" height="4" fill="#000"/>
<rect x="570" y="252" width="1" height="22" fill="#000"/>
<rect x="568" y="258" width="5" height="9" fill="#000"/>
<rect x="569" y="259" width="3" height="7" fill="#fff"/>
<rect x="578" y="224" width="1" height="39" fill="#000"/>
<rect x="576" y="237" width="5" height="22" fill="#000"/>
<rect x="577" y="238" width="3" height="20" fill="#fff"/>
<rect x="586" y="229" width="1" height="32" fill="#000"/>
<rect x="584" y="237" width="5" height="12" fill="#000"/>
<rect x="594" y="235" width="1" height="16" fill="#000"/>
<rect x="592" y="245" width="5" height="3" fill="#000"/>
<rect x="593" y="246" width="3" height="1" fill="#fff"/>
<rect x="602" y="240" width="1" height="22" fill="#000"/>
<rect x="600" y="245" width="5" height="4" fill="#000"/>
<rect x="610" y="239" width="1" height="6" fill="#000"/>
<rect x="608" y="240" width="5" height="4" fill="#000"/>
<rect x="609" y="241" width="3" height="2" fill="#fff"/>
<rect x="618" y="239" width="1" height="8" fill="#000"/>
<rect x="616" y="240" width="5" height="4" fill="#000"/>
<rect x="626" y="232" width="1" height="26" fill="#000"/>
<rect x="624" y="243" width="5" height="11" fill="#000"/>
<rect x="634" y="231" width="1" height="29" fill="#000"/>
<rect x="632" y="237" width="5" height="17" fill="#000"/>
<rect x="633" y="238" width="3" height="15" fill="#fff"/>
<rect x="642" y="233" width="1" height="17" fill="#000"/>
<rect x="640" y="237" width="5" height="9" fill="#000"/>
<rect x="650" y="233" width="1" height="41" fill="#000"/>
<rect x="648" y="238" width="5" height="9" fill="#000"/>
<rect x="649" y="239" width="3" height="7" fill="#fff"/>
<rect x="658" y="241" width="1" height="5" fill="#000"/>
<rect x="656" y="241" width="5" height="2" fill="#000"/>
<rect x="666" y="235" width="1" height="24" fill="#000"/>
<rect x="664" y="242" width="5" height="9" fill="#000"/>
<rect x="674" y="187" width="1" height="65" fill="#000"/>
<rect x="672" y="188" width="5" height="62" fill="#000"/>
<rect x="673" y="189" width="3" height="60" fill="#fff"/>
<rect x="682" y="178" width="1" height="31" fill="#000"/>
<rect x="680" y="179" width="5" height="11" fill="#000"/>
<rect x="681" y="180" width="3" height="9" fill="#fff"/>
<rect x="690" y="170" width="1" height="29" fill="#000"/>
<rect x="688" y="172" width="5" height="9" fill="#000"/>
<rect x="689" y="173" width="3" height="7" fill="#fff"/>
<rect x="698" y="138" width="1" height="40" fill="#000"/>
<rect x="696" y="150" width="5" height="24" fill="#000"/>
<rect x="697" y="151" width="3" height="22" fill="#fff"/>
<rect x="706" y="147" width="1" height="6" fill="#000"/>
<rect x="704" y="149" width="5" height="3" fill="#000"/>
<rect x="705" y="150" width="3" height="1" fill="#fff"/>
<rect x="714" y="149" width="1" height="69" fill="#000"/>
<rect x="712" y="149" width="5" height="60" fill="#000"/>
<rect x="722" y="208" width="1" height="39" fill="#000"/>
<rect x="720" y="209" width="5" height="30" fill="#000"/>
<rect x="730" y="234" width="1" height="49" fill="#000"/>
<rect x="728" y="238" width="5" height="40" fill="#000"/>
<rect x="738" y="265" width="1" height="33" fill="#000"/>
<rect x="736" y="276" width="5" height="11" fill="#000"/>
<rect x="746" y="250" width="1" height="48" fill="#000"/>
<rect x="744" y="255" width="5" height="31" fill="#000"/>
<rect x="745" y="256" width="3" height="29" fill="#fff"/>
<rect x="754" y="254" width="1" height="10" fill="#000"/>
<rect x="752" y="254" width="5" height="8" fill="#000"/>
<rect x="762" y="252" width="1" height="26" fill="#000"/>
<rect x="760" y="253" width="5" height="8" fill="#000"/>
<rect x="761" y="254" width="3" height="6" fill="#fff"/>
<rect x="770" y="246" width="1" height="21" fill="#000"/>
<rect x="768" y="253" width="5" height="5" fill="#000"/>
<rect x="778" y="255" width="1" height="28" fill="#000"/>
<rect x="776" y="257" width="5" height="26" fill="#000"/>
<rect x="786" y="270" width="1" height="24" fill="#000"/>
<rect x="784" y="277" width="5" height="7" fill="#000"/>
<rect x="785" y="278" width="3" height="5" fill="#fff"/>
<rect x="794" y="274" width="1" height="15" fill="#000"/>
<rect x="792" y="277" width="5" height="7" fill="#000"/>
<rect x="802" y="282" width="1" height="5" fill="#000"/>
<rect x="800" y="285" width="5" height="1" fill="#000"/>
<rect x="810" y="276" width="1" height="13" fill="#000"/>
<rect x="808" y="282" width="5" height="3" fill="#000"/>
<rect x="809" y="283" width="3" height="1" fill="#fff"/>
<rect x="818" y="266" width="1" height="57" fill="#000"/>
<rect x="816" y="282" width="5" height="24" fill="#000"/>
<rect x="826" y="270" width="1" height="38" fill="#000"/>
<rect x="824" y="275" width="5" height="31" fill="#000"/>
<rect x="825" y="276" width="3" height="29" fill="#fff"/>
<rect x="834" y="255" width="1" height="22" fill="#000"/>
<rect x="832" y="269" width="5" height="7" fill="#000"/>
<rect x="833" y="270" width="3" height="5" fill="#fff"/>
<rect x="842" y="260" width="1" height="27" fill="#000"/>
<rect x="840" y="267" width="5" height="3" fill="#000"/>
<rect x="841" y="268" width="3" height="1" fill="#fff"/>
<rect x="850" y="265" width="1" height="6" fill="#000"/>
<rect x="848" y="266" width="5" height="4" fill="#000"/>
<rect x="849" y="267" width="3" height="2" fill="#fff"/>
<rect x="858" y="234" width="1" height="42" fill="#000"/>
<rect x="856" y="248" width="5" height="19" fill="#000"/>
<rect x="857" y="249" width="3" height="17" fill="#fff"/>
<rect x="866" y="228" width="1" height="24" fill="#000"/>
<rect x="864" y="228" width="5" height="21" fill="#000"/>
<rect x="865" y="229" width="3" height="19" fill="#fff"/>
<rect x="874" y="220" width="1" height="41" fill="#000"/>
<rect x="872" y="228" width="5" height="32" fill="#000"/>
<rect x="882" y="241" width="1" height="21" fill="#000"/>
<rect x="880" y="253" width="5" height="7" fill="#000"/>
<rect x="881" y="254" width="3" height="5" fill="#fff"/>
<rect x="890" y="249" width="1" height="8" fill="#000"/>
<rect x="888" y="252" width="5" height="2" fill="#000"/>
<rect x="898" y="248" width="1" height="3" fill="#000"/>
<rect x="896" y="248" width="5" height="3" fill="#000"/>
<rect x="897" y="249" width="3" height="1" fill="#fff"/>
<rect x="906" y="239" width="1" height="26" fill="#000"/>
<rect x="904" y="248" width="5" height="12" fill="#000"/>
<rect x="914" y="238" width="1" height="28" fill="#000"/>
<rect x="912" y="249" width="5" height="11" fill="#000"/>
<rect x="913" y="250" width="3" height="9" fill="#fff"/>
<rect x="922" y="242" width="1" height="26" fill="#000"/>
<rect x="920" y="249" width="5" height="15" fill="#000"/>
<rect x="930" y="257" width="1" height="16" fill="#000"/>
<rect x="928" y="263" width="5" height="3" fill="#000"/>
<rect x="938" y="264" width="1" height="31" fill="#000"/>
<rect x="936" y="265" width="5" height="16" fill="#000"/>
<rect x="946" y="281" width="1" height="4" fill="#000"/>
<rect x="944" y="281" width="5" height="2" fill="#000"/>
<rect x="954" y="261" width="1" height="27" fill="#000"/>
<rect x="952" y="263" width="5" height="18" fill="#000"/>
<rect x="953" y="264" width="3" height="16" fill="#fff"/>
<rect x="962" y="256" width="1" height="16" fill="#000"/>
<rect x="960" y="263" width="5" height="3" fill="#000"/>
<rect x="970" y="262" width="1" height="32" fill="#000"/>
<rect x="968" y="265" width="5" height="17" fill="#000"/>
<rect x="978" y="257" width="1" height="29" fill="#000"/>
<rect x="976" y="263" width="5" height="20" fill="#000"/>
<rect x="977" y="264" width="3" height="18" fill="#fff"/>
<rect x="986" y="259" width="1" height="21" fill="#000"/>
<rect x="984" y="263" width="5" height="17" fill="#000"/>
<rect x="994" y="273" width="1" height="4" fill="#000"/>
<rect x="992" y="272" width="5" height="4" fill="#000"/>
<rect x="993" y="273" width="3" height="2" fill="#fff"/>
<rect x="1002" y="251" width="1" height="25" fill="#000"/>
<rect x="1000" y="267" width="5" height="6" fill="#000"/>
<rect x="1001" y="268" width="3" height="4" fill="#fff"/>
<rect x="1010" y="259" width="1" height="34" fill="#000"/>
<rect x="1008" y="268" width="5" height="18" fill="#000"/>
<rect x="1018" y="263" width="1" height="29" fill="#000"/>
<rect x="1016" y="268" width="5" height="18" fill="#000"/>
<rect x="1017" y="269" width="3" height="16" fill="#fff"/>
<rect x="1026" y="266" width="1" height="26" fill="#000"/>
<rect x="1024" y="268" width="5" height="17" fill="#000"/>
<rect x="1034" y="284" width="1" height="58" fill="#000"/>
<rect x="1032" y="284" width="5" height="42" fill="#000"/>
<rect x="1042" y="324" width="1" height="4" fill="#000"/>
<rect x="1040" y="326" width="5" height="1" fill="#000"/>
<rect x="1050" y="323" width="1" height="46" fill="#000"/>
<rect x="1048" y="325" width="5" height="37" fill="#000"/>
<rect x="1058" y="341" width="1" height="36" fill="#000"/>
<rect x="1056" y="360" width="5" height="10" fill="#000"/>
<rect x="1066" y="362" width="1" height="24" fill="#000"/>
<rect x="1064" y="368" width="5" height="5" fill="#000"/>
<rect x="1074" y="360" width="1" height="32" fill="#000"/>
<rect x="1072" y="372" width="5" height="18" fill="#000"/>
<rect x="1082" y="323" width="1" height="92" fill="#000"/>
<rect x="1080" y="337" width="5" height="53" fill="#000"/>
<rect x="1081" y="338" width="3" height="51" fill="#fff"/>
<rect x="1090" y="330" width="1" height="7" fill="#000"/>
<rect x="1088" y="332" width="5" height="4" fill="#000"/>
<rect x="1089" y="333" width="3" height="2" fill="#fff"/>
<rect x="1098" y="302" width="1" height="45" fill="#000"/>
<rect x="1096" y="324" width="5" height="10" fill="#000"/>
<rect x="1097" y="325" width="3" height="8" fill="#fff"/>
<rect x="1106" y="316" width="1" height="29" fill="#000"/>
<rect x="1104" y="324" width="5" height="20" fill="#000"/>
<rect x="1114" y="332" width="1" height="27" fill="#000"/>
<rect x="1112" y="343" width="5" height="5" fill="#000"/>
<rect x="1122" y="340" width="1" height="20" fill="#000"/>
<rect x="1120" y="346" width="5" height="1" fill="#000"/>
<rect x="1130" y="323" width="1" height="29" fill="#000"/>
<rect x="1128" y="328" width="5" height="19" fill="#000"/>
<rect x="1129" y="329" width="3" height="17" fill="#fff"/>
<rect x="1138" y="330" width="1" height="4" fill="#000"/>
<rect x="1136" y="330" width="5" height="3" fill="#000"/>
<rect x="1146" y="316" width="1" height="25" fill="#000"/>
<rect x="1144" y="326" width="5" height="8" fill="#000"/>
<rect x="1145" y="327" width="3" height="6" fill="#fff"/>
<rect x="1154" y="292" width="1" height="38" fill="#000"/>
<rect x="1152" y="301" width="5" height="26" fill="#000"/>
<rect x="1153" y="302" width="3" height="24" fill="#fff"/>
<rect x="1162" y="276" width="1" height="28" fill="#000"/>
<rect x="1160" y="284" width="5" height="18" fill="#000"/>
<rect x="1161" y="285" width="3" height="16" fill="#fff"/>
<rect x="1170" y="274" width="1" height="25" fill="#000"/>
<rect x="1168" y="278" width="5" height="8" fill="#000"/>
<rect x="1169" y="279" width="3" height="6" fill="#fff"/>
<rect x="1178" y="275" width="1" height="30" fill="#000"/>
<rect x="1176" y="278" width="5" height="21" fill="#000"/>
<rect x="1186" y="296" width="1" height="4" fill="#000"/>
<rect x="1184" y="296" width="5" height="3" fill="#000"/>
<rect x="1194" y="293" width="1" height="36" fill="#000"/>
<rect x="1192" y="298" width="5" height="28" fill="#000"/>
<rect x="1202" y="325" width="1" height="40" fill="#000"/>
<rect x="1200" y="325" width="5" height="39" fill="#000"/>
<rect x="1210" y="318" width="1" height="52" fill="#000"/>
<rect x="1208" y="321" width="5" height="42" fill="#000"/>
<rect x="1209" y="322" width="3" height="40" fill="#fff"/>
<rect x="1218" y="315" width="1" height="27" fill="#000"/>
<rect x="1216" y="322" width="5" height="20" fill="#000"/>
<rect x="1226" y="322" width="1" height="31" fill="#000"/>
<rect x="1224" y="334" width="5" height="8" fill="#000"/>
<rect x="1225" y="335" width="3" height="6" fill="#fff"/>
<rect x="1234" y="332" width="1" height="3" fill="#000"/>
<rect x="1232" y="331" width="5" height="1" fill="#000"/>
<rect x="1242" y="325" width="1" height="16" fill="#000"/>
<rect x="1240" y="325" width="5" height="7" fill="#000"/>
<rect x="1241" y="326" width="3" height="5" fill="#fff"/>
<rect x="1250" y="297" width="1" height="36" fill="#000"/>
<rect x="1248" y="306" width="5" height="20" fill="#000"/>
<rect x="1249" y="307" width="3" height="18" fill="#fff"/>
<rect x="1258" y="298" width="1" height="36" fill="#000"/>
<rect x="1256" y="306" width="5" height="26" fill="#000"/>
<rect x="1266" y="291" width="1" height="55" fill="#000"/>
<rect x="1264" y="294" width="5" height="39" fill="#000"/>
<rect x="1265" y="295" width="3" height="37" fill="#fff"/>
<rect x="1274" y="279" width="1" height="85" fill="#000"/>
<rect x="1272" y="293" width="5" height="62" fill="#000"/>
<rect x="1282" y="342" width="1" height="10" fill="#000"/>
<rect x="1280" y="342" width="5" height="7" fill="#000"/>
<rect x="1290" y="321" width="1" height="40" fill="#000"/>
<rect x="1288" y="325" width="5" height="24" fill="#000"/>
<rect x="1289" y="326" width="3" height="22" fill="#fff"/>
<rect x="1298" y="318" width="1" height="28" fill="#000"/>
<rect x="1296" y="326" width="5" height="5" fill="#000"/>
<rect x="1306" y="311" width="1" height="22" fill="#000"/>
<rect x="1304" y="315" width="5" height="17" fill="#000"/>
<rect x="1305" y="316" width="3" height="15" fill="#fff"/>
<rect x="1314" y="298" width="1" height="28" fill="#000"/>
<rect x="1312" y="315" width="5" height="7" fill="#000"/>
<rect x="1322" y="301" width="1" height="22" fill="#000"/>
<rect x="1320" y="315" width="5" height="7" fill="#000"/>
<rect x="1321" y="316" width="3" height="5" fill="#fff"/>
<rect x="1330" y="311" width="1" height="4" fill="#000"/>
<rect x="1328" y="310" width="5" height="3" fill="#000"/>
<rect x="1329" y="311" width="3" height="1" fill="#fff"/>
<rect x="1338" y="307" width="1" height="13" fill="#000"/>
<rect x="1336" y="311" width="5" height="1" fill="#000"/>
<rect x="1346" y="307" width="1" height="28" fill="#000"/>
<rect x="1344" y="311" width="5" height="17" fill="#000"/>
<rect x="1354" y="312" width="1" height="24" fill="#000"/>
<rect x="1352" y="314" width="5" height="14" fill="#000"/>
<rect x="1353" y="315" width="3" height="12" fill="#fff"/>
<rect x="1362" y="311" width="1" height="16" fill="#000"/>
<rect x="1360" y="314" width="5" height="5" fill="#000"/>
<rect x="1370" y="313" width="1" height="11" fill="#000"/>
<rect x="1368" y="318" width="5" height="3" fill="#000"/>
<rect x="1378" y="318" width="1" height="2" fill="#000"/>
<rect x="1376" y="318" width="5" height="3" fill="#000"/>
<rect x="1377" y="319" width="3" height="1" fill="#fff"/>
<rect x="1386" y="317" width="1" height="31" fill="#000"/>
<rect x="1384" y="318" width="5" height="22" fill="#000"/>
<rect x="1394" y="334" width="1" height="26" fill="#000"/>
<rect x="1392" y="338" width="5" height="18" fill="#000"/>
<rect x="1402" y="354" width="1" height="21" fill="#000"/>
<rect x="1400" y="354" width="5" height="18" fill="#000"/>
<rect x="1410" y="366" width="1" height="32" fill="#000"/>
<rect x="1408" y="372" width="5" height="18" fill="#000"/>
<rect x="1418" y="388" width="1" height="22" fill="#000"/>
<rect x="1416" y="388" width="5" height="9" fill="#000"/>
<rect x="1426" y="396" width="1" height="3" fill="#000"/>
<rect x="1424" y="396" width="5" height="3" fill="#000"/>
<rect x="1434" y="384" width="1" height="40" fill="#000"/>
<rect x="1432" y="389" width="5" height="9" fill="#000"/>
<rect x="1433" y="390" width="3" height="7" fill="#fff"/>
</g>
<g shape-rendering="crispEdges">
<rect x="2" y="598" width="1" height="36" fill="#c0c0c0"/>
<rect x="10" y="603" width="1" height="31" fill="#c0c0c0"/>
<rect x="18" y="606" width="1" height="28" fill="#c0c0c0"/>
<rect x="26" y="614" width="1" height="20" fill="#c0c0c0"/>
<rect x="34" y="630" width="1" height="4" fill="#c0c0c0"/>
<rect x="42" y="633" width="1" height="9" fill="#c0c0c0"/>
<rect x="50" y="633" width="1" height="15" fill="#c0c0c0"/>
<rect x="58" y="633" width="1" height="27" fill="#c0c0c0"/>
<rect x="66" y="633" width="1" height="33" fill="#c0c0c0"/>
<rect x="74" y="633" width="1" height="46" fill="#c0c0c0"/>
<rect x="82" y="633" width="1" height="61" fill="#c0c0c0"/>
<rect x="90" y="633" width="1" height="79" fill="#c0c0c0"/>
<rect x="98" y="633" width="1" height="97" fill="#c0c0c0"/>
<rect x="106" y="633" width="1" height="100" fill="#c0c0c0"/>
<rect x="114" y="633" width="1" height="102" fill="#c0c0c0"/>
<rect x="122" y="633" width="1" height="104" fill="#c0c0c0"/>
<rect x="130" y="633" width="1" height="84" fill="#c0c0c0"/>
<rect x="138" y="633" width="1" height="75" fill="#c0c0c0"/>
<rect x="146" y="633" width="1" height="71" fill="#c0c0c0"/>
<rect x="154" y="633" width="1" height="60" fill="#c0c0c0"/>
<rect x="162" y="633" width="1" height="45" fill="#c0c0c0"/>
<rect x="170" y="633" width="1" height="15" fill="#c0c0c0"/>
<rect x="178" y="628" width="1" height="6" fill="#c0c0c0"/>
<rect x="186" y="615" width="1" height="19" fill="#c0c0c0"/>
<rect x="194" y="603" width="1" height="31" fill="#c0c0c0"/>
<rect x="202" y="592" width="1" height="42" fill="#c0c0c0"/>
<rect x="210" y="585" width="1" height="49" fill="#c0c0c0"/>
<rect x="218" y="590" width="1" height="44" fill="#c0c0c0"/>
<rect x="226" y="602" width="1" height="32" fill="#c0c0c0"/>
<rect x="234" y="614" width="1" height="20" fill="#c0c0c0"/>
<rect x="242" y="620" width="1" height="14" fill="#c0c0c0"/>
<rect x="250" y="628" width="1" height="6" fill="#c0c0c0"/>
<rect x="258" y="633" width="1" height="1" fill="#c0c0c0"/>
<rect x="266" y="633" width="1" height="3" fill="#c0c0c0"/>
<rect x="274" y="633" width="1" height="3" fill="#c0c0c0"/>
<rect x="282" y="633" width="1" height="1" fill="#c0c0c0"/>
<rect x="290" y="630" width="1" height="4" fill="#c0c0c0"/>
<rect x="298" y="628" width="1" height="6" fill="#c0c0c0"/>
<rect x="306" y="627" width="1" height="7" fill="#c0c0c0"/>
<rect x="314" y="629" width="1" height="5" fill="#c0c0c0"/>
<rect x="322" y="631" width="1" height="3" fill="#c0c0c0"/>
<rect x="330" y="633" width="1" height="1" fill="#c0c0c0"/>
<rect x="338" y="633" width="1" height="8" fill="#c0c0c0"/>
<rect x="346" y="633" width="1" height="11" fill="#c0c0c0"/>
<rect x="354" y="633" width="1" height="11" fill="#c0c0c0"/>
<rect x="362" y="633" width="1" height="13" fill="#c0c0c0"/>
<rect x="370" y="633" width="1" height="14" fill="#c0c0c0"/>
<rect x="378" y="633" width="1" height="14" fill="#c0c0c0"/>
<rect x="386" y="633" width="1" height="14" fill="#c0c0c0"/>
<rect x="394" y="633" width="1" height="13" fill="#c0c0c0"/>
<rect x="402" y="633" width="1" height="14" fill="#c0c0c0"/>
<rect x="410" y="633" width="1" height="14" fill="#c0c0c0"/>
<rect x="418" y="633" width="1" height="15" fill="#c0c0c0"/>
<rect x="426" y="633" width="1" height="16" fill="#c0c0c0"/>
<rect x="434" y="633" width="1" height="21" fill="#c0c0c0"/>
<rect x="442" y="633" width="1" height="24" fill="#c0c0c0"/>
<rect x="450" y="633" width="1" height="23" fill="#c0c0c0"/>
<rect x="458" y="633" width="1" height="24" fill="#c0c0c0"/>
<rect x="466" y="633" width="1" height="26" fill="#c0c0c0"/>
<rect x="474" y="633" width="1" height="27" fill="#c0c0c0"/>
<rect x="482" y="633" width="1" height="29" fill="#c0c0c0"/>
<rect x="490" y="633" width="1" height="30" fill="#c0c0c0"/>
<rect x="498" y="633" width="1" height="32" fill="#c0c0c0"/>
<rect x="506" y="633" width="1" height="30" fill="#c0c0c0"/>
<rect x="514" y="633" width="1" height="27" fill="#c0c0c0"/>
<rect x="522" y="633" width="1" height="21" fill="#c0c0c0"/>
<rect x="530" y="633" width="1" height="18" fill="#c0c0c0"/>
<rect x="538" y="633" width="1" height="17" fill="#c0c0c0"/>
<rect x="546" y="633" width="1" height="13" fill="#c0c0c0"/>
<rect x="554" y="633" width="1" height="10" fill="#c0c0c0"/>
<rect x="562" y="633" width="1" height="8" fill="#c0c0c0"/>
<rect x="570" y="633" width="1" height="7" fill="#c0c0c0"/>
<rect x="578" y="633" width="1" height="3" fill="#c0c0c0"/>
<rect x="586" y="633" width="1" height="1" fill="#c0c0c0"/>
<rect x="594" y="632" width="1" height="2" fill="#c0c0c0"/>
<rect x="602" y="631" width="1" height="3" fill="#c0c0c0"/>
<rect x="610" y="629" width="1" height="5" fill="#c0c0c0"/>
<rect x="618" y="628" width="1" height="6" fill="#c0c0c0"/>
<rect x="626" y="629" width="1" height="5" fill="#c0c0c0"/>
<rect x="634" y="627" width="1" height="7" fill="#c0c0c0"/>
<rect x="642" y="627" width="1" height="7" fill="#c0c0c0"/>
<rect x="650" y="626" width="1" height="8" fill="#c0c0c0"/>
<rect x="658" y="626" width="1" height="8" fill="#c0c0c0"/>
<rect x="666" y="627" width="1" height="7" fill="#c0c0c0"/>
<rect x="674" y="621" width="1" height="13" fill="#c0c0c0"/>
<rect x="682" y="615" width="1" height="19" fill="#c0c0c0"/>
<rect x="690" y="610" width="1" height="24" fill="#c0c0c0"/>
<rect x="698" y="603" width="1" height="31" fill="#c0c0c0"/>
<rect x="706" y="599" width="1" height="35" fill="#c0c0c0"/>
<rect x="714" y="602" width="1" height="32" fill="#c0c0c0"/>
<rect x="722" y="609" width="1" height="25" fill="#c0c0c0"/>
<rect x="730" y="619" width="1" height="15" fill="#c0c0c0"/>
<rect x="738" y="628" width="1" height="6" fill="#c0c0c0"/>
<rect x="746" y="631" width="1" height="3" fill="#c0c0c0"/>
<rect x="754" y="633" width="1" height="1" fill="#c0c0c0"/>
<rect x="762" y="633" width="1" height="3" fill="#c0c0c0"/>
<rect x="770" y="633" width="1" height="5" fill="#c0c0c0"/>
<rect x="778" y="633" width="1" height="8" fill="#c0c0c0"/>
<rect x="786" y="633" width="1" height="12" fill="#c0c0c0"/>
<rect x="794" y="633" width="1" height="14" fill="#c0c0c0"/>
<rect x="802" y="633" width="1" height="15" fill="#c0c0c0"/>
<rect x="810" y="633" width="1" height="17" fill="#c0c0c0"/>
<rect x="818" y="633" width="1" height="21" fill="#c0c0c0"/>
<rect x="826" y="633" width="1" height="19" fill="#c0c0c0"/>
<rect x="834" y="633" width="1" height="18" fill="#c0c0c0"/>
<rect x="842" y="633" width="1" height="15" fill="#c0c0c0"/>
<rect x="850" y="633" width="1" height="14" fill="#c0c0c0"/>
<rect x="858" y="633" width="1" height="10" fill="#c0c0c0"/>
<rect x="866" y="633" width="1" height="6" fill="#c0c0c0"/>
<rect x="874" y="633" width="1" height="5" fill="#c0c0c0"/>
<rect x="882" y="633" width="1" height="4" fill="#c0c0c0"/>
<rect x="890" y="633" width="1" height="3" fill="#c0c0c0"/>
<rect x="898" y="633" width="1" height="1" fill="#c0c0c0"/>
<rect x="906" y="633" width="1" height="2" fill="#c0c0c0"/>
<rect x="914" y="633" width="1" height="1" fill="#c0c0c0"/>
<rect x="922" y="633" width="1" height="1" fill="#c0c0c0"/>
<rect x="930" y="633" width="1" height="2" fill="#c0c0c0"/>
<rect x="938" y="633" width="1" height="4" fill="#c0c0c0"/>
<rect x="946" y="633" width="1" height="7" fill="#c0c0c0"/>
<rect x="954" y="633" width="1" height="6" fill="#c0c0c0"/>
<rect x="962" y="633" width="1" height="6" fill="#c0c0c0"/>
<rect x="970" y="633" width="1" height="7" fill="#c0c0c0"/>
<rect x="978" y="633" width="1" height="6" fill="#c0c0c0"/>
<rect x="986" y="633" width="1" height="7" fill="#c0c0c0"/>
<rect x="994" y="633" width="1" height="6" fill="#c0c0c0"/>
<rect x="1002" y="633" width="1" height="6" fill="#c0c0c0"/>
<rect x="1010" y="633" width="1" height="7" fill="#c0c0c0"/>
<rect x="1018" y="633" width="1" height="7" fill="#c0c0c0"/>
<rect x="1026" y="633" width="1" height="7" fill="#c0c0c0"/>
<rect x="1034" y="633" width="1" height="13" fill="#c0c0c0"/>
<rect x="1042" y="633" width="1" height="18" fill="#c0c0c0"/>
<rect x="1050" y="633" width="1" height="25" fill="#c0c0c0"/>
<rect x="1058" y="633" width="1" height="30" fill="#c0c0c0"/>
<rect x="1066" y="633" width="1" height="35" fill="#c0c0c0"/>
<rect x="1074" y="633" width="1" height="41" fill="#c0c0c0"/>
<rect x="1082" y="633" width="1" height="38" fill="#c0c0c0"/>
<rect x="1090" y="633" width="1" height="35" fill="#c0c0c0"/>
<rect x="1098" y="633" width="1" height="32" fill="#c0c0c0"/>
<rect x="1106" y="633" width="1" height="31" fill="#c0c0c0"/>
<rect x="1114" y="633" width="1" height="30" fill="#c0c0c0"/>
<rect x="1122" y="633" width="1" height="29" fill="#c0c0c0"/>
<rect x="1130" y="633" width="1" height="27" fill="#c0c0c0"/>
<rect x="1138" y="633" width="1" height="25" fill="#c0c0c0"/>
<rect x="1146" y="633" width="1" height="22" fill="#c0c0c0"/>
<rect x="1154" y="633" width="1" height="17" fill="#c0c0c0"/>
<rect x="1162" y="633" width="1" height="9" fill="#c0c0c0"/>
<rect x="1170" y="633" width="1" height="5" fill="#c0c0c0"/>
<rect x="1178" y="633" width="1" height="1" fill="#c0c0c0"/>
<rect x="1186" y="633" width="1" height="1" fill="#c0c0c0"/>
<rect x="1194" y="633" width="1" height="1" fill="#c0c0c0"/>
<rect x="1202" y="633" width="1" height="7" fill="#c0c0c0"/>
<rect x="1210" y="633" width="1" height="7" fill="#c0c0c0"/>
<rect x="1218" y="633" width="1" height="8" fill="#c0c0c0"/>
<rect x="1226" y="633" width="1" height="9" fill="#c0c0c0"/>
<rect x="1234" y="633" width="1" height="9" fill="#c0c0c0"/>
<rect x="1242" y="633" width="1" height="8" fill="#c0c0c0"/>
<rect x="1250" y="633" width="1" height="6" fill="#c0c0c0"/>
<rect x="1258" y="633" width="1" height="6" fill="#c0c0c0"/>
<rect x="1266" y="633" width="1" height="3" fill="#c0c0c0"/>
<rect x="1274" y="633" width="1" height="6" fill="#c0c0c0"/>
<rect x="1282" y="633" width="1" height="8" fill="#c0c0c0"/>
<rect x="1290" y="633" width="1" height="7" fill="#c0c0c0"/>
<rect x="1298" y="633" width="1" height="7" fill="#c0c0c0"/>
<rect x="1306" y="633" width="1" height="6" fill="#c0c0c0"/>
<rect x="1314" y="633" width="1" height="4" fill="#c0c0c0"/>
<rect x="1322" y="633" width="1" height="3" fill="#c0c0c0"/>
<rect x="1330" y="633" width="1" height="1" fill="#c0c0c0"/>
<rect x="1338" y="633" width="1" height="1" fill="#c0c0c0"/>
<rect x="1346" y="633" width="1" height="1" fill="#c0c0c0"/>
<rect x="1354" y="633" width="1" height="1" fill="#c0c0c0"/>
<rect x="1362" y="633" width="1" height="1" fill="#c0c0c0"/>
<rect x="1370" y="633" width="1" height="1" fill="#c0c0c0"/>
<rect x="1378" y="633" width="1" height="1" fill="#c0c0c0"/>
<rect x="1386" y="633" width="1" height="3" fill="#c0c0c0"/>
<rect x="1394" y="633" width="1" height="6" fill="#c0c0c0"/>
<rect x="1402" y="633" width="1" height="10" fill="#c0c0c0"/>
<rect x="1410" y="633" width="1" height="15" fill="#c0c0c0"/>
<rect x="1418" y="633" width="1" height="21" fill="#c0c0c0"/>
<rect x="1426" y="633" width="1" height="24" fill="#c0c0c0"/>
<rect x="1434" y="633" width="1" height="25" fill="#c0c0c0"/>
</g>
<path d="M244 604.5h3M250 604.5h2M239 605.5h2M24 606.5h3M30 606.5h3M18 607.5h3M36 607.5h2M257 607.5h2M12 608.5h2M7 609.5h2M262 609.5h3M43 610.5h2M730 610.5h3M724 611.5h2M736 611.5h3M0 612.5h2M269 612.5h2M718 612.5h2M742 612.5h3M49 613.5h2M713 613.5h2M748 613.5h3M754 614.5h2M706 616.5h2M761 617.5h2M700 618.5h2M280 619.5h2M694 620.5h3M767 620.5h2M688 622.5h3M286 623.5h2M682 624.5h2M676 625.5h2M292 626.5h3M670 626.5h2M664 627.5h3M779 627.5h2M298 628.5h3M652 628.5h3M658 628.5h3M646 629.5h2M305 630.5h2M640 630.5h3M785 630.5h2M310 631.5h3M316 631.5h3M322 631.5h3M328 631.5h3M634 631.5h3M334 632.5h3M340 632.5h2M628 632.5h2M346 633.5h3M622 633.5h3M791 633.5h2M352 634.5h3M1366 634.5h3M1372 634.5h3M1378 634.5h3M1384 634.5h3M1390 634.5h3M1396 634.5h2M358 635.5h3M616 635.5h3M1354 635.5h3M1360 635.5h3M1402 635.5h3M364 636.5h2M928 636.5h3M934 636.5h3M940 636.5h3M946 636.5h3M952 636.5h3M958 636.5h3M964 636.5h2M1348 636.5h3M1408 636.5h3M610 637.5h2M922 637.5h3M970 637.5h3M976 637.5h3M1330 637.5h3M1336 637.5h3M1342 637.5h3M1414 637.5h2M370 638.5h2M604 638.5h3M916 638.5h2M982 638.5h3M988 638.5h2M1324 638.5h3M802 639.5h2M910 639.5h2M994 639.5h3M1000 639.5h3M1216 639.5h3M1222 639.5h3M1228 639.5h3M1234 639.5h3M1294 639.5h3M1300 639.5h3M1306 639.5h3M1312 639.5h3M1318 639.5h3M1420 639.5h2M376 640.5h3M598 640.5h2M904 640.5h3M1006 640.5h3M1012 640.5h3M1018 640.5h3M1024 640.5h3M1240 640.5h3M1246 640.5h3M1252 640.5h2M1282 640.5h3M1288 640.5h3M382 641.5h3M593 641.5h2M808 641.5h3M1030 641.5h3M1036 641.5h2M1210 641.5h2M1258 641.5h3M1264 641.5h3M1270 641.5h3M1276 641.5h2M1426 641.5h2M388 642.5h2M898 642.5h2M1042 642.5h2M1204 642.5h2M814 643.5h3M892 643.5h2M1198 643.5h3M394 644.5h2M586 644.5h2M886 644.5h3M1048 644.5h3M1433 644.5h2M820 645.5h3M1193 645.5h2M400 646.5h3M406 646.5h3M412 646.5h2M581 646.5h2M826 646.5h2M880 646.5h3M1054 646.5h3M418 647.5h3M874 647.5h3M424 648.5h3M430 648.5h3M832 648.5h3M862 648.5h3M868 648.5h2M1060 648.5h2M1186 648.5h2M436 649.5h3M574 649.5h2M838 649.5h3M844 649.5h2M856 649.5h3M442 650.5h3M569 650.5h2M850 650.5h3M1066 650.5h2M1181 650.5h2M448 651.5h3M454 652.5h3M460 652.5h2M466 653.5h3M562 653.5h2M1073 653.5h2M1174 653.5h3M472 654.5h3M556 654.5h2M478 655.5h3M550 655.5h3M1078 655.5h3M1169 655.5h2M484 656.5h2M544 657.5h3M490 658.5h3M1162 658.5h2M496 659.5h3M538 659.5h2M502 660.5h3M508 660.5h2M520 660.5h3M526 660.5h3M532 660.5h2M1157 660.5h2M514 661.5h3M1090 661.5h2M1150 662.5h3M1096 663.5h3M1145 663.5h2M1102 664.5h3M1108 665.5h2M1138 666.5h2M1114 667.5h3M1120 667.5h3M1126 667.5h3M1132 667.5h2M130 713.5h2M161 715.5h2M137 716.5h2M142 718.5h3M154 718.5h2M148 719.5h2M2.5 611v1M6.5 610v1M14.5 607v1M38.5 608v1M42.5 609v1M48.5 612v1M54.5 617v1M55.5 618v1M56.5 619v1M60.5 623v1M61.5 624v1M62.5 625v1M66.5 629v1M67.5 630v1M68.5 631v1M72.5 635v1M73.5 636v1M74.5 637v1M77.5 641v1M78.5 642v1M79.5 643v1M82.5 647v1M83.5 648v2M86.5 653v1M87.5 654v2M90.5 659v1M91.5 660v2M94.5 665v2M95.5 667v1M97.5 671v1M98.5 672v1M99.5 673v1M101.5 677v1M102.5 678v1M103.5 679v1M105.5 683v1M106.5 684v1M107.5 685v1M110.5 689v2M111.5 691v1M114.5 695v1M115.5 696v1M116.5 697v1M119.5 701v1M120.5 702v2M124.5 707v1M125.5 708v1M126.5 709v1M132.5 714v1M136.5 715v1M150.5 718v1M156.5 717v1M160.5 716v1M166.5 710v2M167.5 709v1M171.5 705v1M172.5 703v2M176.5 698v2M177.5 697v1M180.5 692v2M181.5 691v1M183.5 686v2M184.5 685v1M186.5 681v1M187.5 679v2M189.5 675v1M190.5 673v2M192.5 669v1M193.5 667v2M195.5 663v1M196.5 661v2M198.5 657v1M199.5 655v2M201.5 651v1M202.5 649v2M204.5 645v1M205.5 644v1M206.5 643v1M208.5 639v1M209.5 637v2M212.5 633v1M213.5 632v1M214.5 631v1M217.5 627v1M218.5 626v1M219.5 625v1M222.5 620v2M223.5 619v1M226.5 615v1M227.5 614v1M228.5 613v1M232.5 610v1M233.5 609v1M234.5 608v1M238.5 606v1M252.5 605v1M256.5 606v1M268.5 611v1M274.5 614v1M275.5 615v1M276.5 616v1M282.5 620v1M288.5 624v1M304.5 629v1M342.5 633v1M366.5 637v1M372.5 639v1M390.5 643v1M396.5 645v1M414.5 647v1M462.5 653v1M486.5 657v1M510.5 661v1M534.5 659v1M540.5 658v1M558.5 653v1M564.5 652v1M568.5 651v1M576.5 648v1M580.5 647v1M588.5 643v1M592.5 642v1M600.5 639v1M612.5 636v1M630.5 631v1M648.5 628v1M672.5 625v1M678.5 624v1M684.5 623v1M702.5 617v1M708.5 615v1M712.5 614v1M720.5 611v1M726.5 610v1M756.5 615v1M760.5 616v1M766.5 619v1M772.5 622v1M773.5 623v1M774.5 624v1M778.5 626v1M784.5 629v1M790.5 632v1M796.5 635v1M797.5 636v1M798.5 637v1M804.5 640v1M828.5 647v1M846.5 650v1M870.5 647v1M894.5 642v1M900.5 641v1M912.5 638v1M918.5 637v1M966.5 637v1M990.5 639v1M1038.5 642v1M1044.5 643v1M1062.5 649v1M1068.5 651v1M1072.5 652v1M1084.5 657v1M1085.5 658v1M1086.5 659v1M1092.5 662v1M1110.5 666v1M1134.5 666v1M1140.5 665v1M1144.5 664v1M1156.5 661v1M1164.5 657v1M1168.5 656v1M1180.5 651v1M1188.5 647v1M1192.5 646v1M1206.5 641v1M1212.5 640v1M1254.5 641v1M1278.5 640v1M1398.5 635v1M1416.5 638v1M1422.5 640v1M1428.5 642v1M1432.5 643v1" stroke="#ff0000" fill="none" stroke-width="1" shape-rendering="crispEdges"/>
<path d="M698 796.5h9M696 797.5h2M692 800.5h2M688 802.5h3M684 803.5h4M681 804.5h3M678 805.5h3M676 806.5h2M674 807.5h2M170 812.5h2M172 813.5h4M176 814.5h3M180 816.5h2M198 816.5h6M193 817.5h5M204 817.5h4M190 818.5h3M208 818.5h3M1169 818.5h2M184 819.5h2M188 819.5h2M1166 819.5h3M186 820.5h2M1164 820.5h2M1162 821.5h2M1160 822.5h2M1158 823.5h2M579 824.5h2M609 825.5h3M649 825.5h3M1155 825.5h2M582 826.5h2M607 826.5h2M612 826.5h4M635 826.5h2M647 826.5h2M652 826.5h2M584 827.5h2M590 827.5h6M605 827.5h2M616 827.5h3M637 827.5h2M645 827.5h2M654 827.5h3M1265 827.5h2M289 828.5h2M586 828.5h4M596 828.5h4M603 828.5h2M619 828.5h2M630 828.5h2M639 828.5h2M643 828.5h2M657 828.5h2M160 829.5h2M286 829.5h3M291 829.5h2M600 829.5h3M641 829.5h2M659 829.5h2M1178 829.5h9M14 830.5h5M284 830.5h2M293 830.5h2M304 830.5h3M622 830.5h2M1328 830.5h11M10 831.5h4M130 831.5h2M281 831.5h3M295 831.5h2M300 831.5h4M307 831.5h2M569 831.5h2M624 831.5h2M662 831.5h2M896 831.5h3M1324 831.5h4M156 832.5h2M279 832.5h2M297 832.5h3M546 832.5h4M567 832.5h2M664 832.5h3M892 832.5h4M899 832.5h2M912 832.5h2M1306 832.5h4M1318 832.5h6M1354 832.5h4M277 833.5h2M310 833.5h2M550 833.5h6M565 833.5h2M880 833.5h12M910 833.5h2M1304 833.5h2M1310 833.5h8M1352 833.5h2M1358 833.5h6M275 834.5h2M312 834.5h2M556 834.5h4M563 834.5h2M876 834.5h4M902 834.5h2M1302 834.5h2M1342 834.5h2M1350 834.5h2M1364 834.5h4M1374 834.5h5M272 835.5h3M314 835.5h4M560 835.5h3M874 835.5h2M904 835.5h2M907 835.5h2M918 835.5h2M1368 835.5h6M268 836.5h4M318 836.5h5M954 836.5h4M1290 836.5h4M1299 836.5h2M1347 836.5h2M266 837.5h2M531 837.5h2M958 837.5h5M1000 837.5h3M1241 837.5h2M1294 837.5h5M264 838.5h2M324 838.5h2M353 838.5h3M392 838.5h4M533 838.5h2M846 838.5h5M922 838.5h4M996 838.5h4M1210 838.5h2M1238 838.5h3M240 839.5h2M243 839.5h2M350 839.5h3M356 839.5h2M388 839.5h4M396 839.5h2M535 839.5h2M833 839.5h13M926 839.5h5M993 839.5h3M1145 839.5h2M1236 839.5h2M1286 839.5h2M226 840.5h2M238 840.5h2M245 840.5h2M348 840.5h2M358 840.5h3M366 840.5h22M398 840.5h3M537 840.5h2M761 840.5h5M830 840.5h3M991 840.5h2M1142 840.5h3M1230 840.5h6M138 841.5h2M228 841.5h2M247 841.5h2M260 841.5h2M328 841.5h2M346 841.5h2M361 841.5h5M401 841.5h3M758 841.5h3M766 841.5h5M828 841.5h2M989 841.5h2M1130 841.5h4M1140 841.5h2M1214 841.5h2M1225 841.5h5M140 842.5h4M230 842.5h3M235 842.5h2M249 842.5h5M344 842.5h2M404 842.5h2M416 842.5h3M512 842.5h2M746 842.5h4M756 842.5h2M826 842.5h2M987 842.5h2M1097 842.5h2M1134 842.5h6M1222 842.5h3M144 843.5h3M233 843.5h2M254 843.5h5M331 843.5h2M406 843.5h3M412 843.5h4M419 843.5h2M510 843.5h2M750 843.5h6M934 843.5h2M1095 843.5h2M1220 843.5h2M1280 843.5h3M409 844.5h3M421 844.5h2M452 844.5h2M1093 844.5h2M1218 844.5h2M1276 844.5h4M334 845.5h2M340 845.5h2M423 845.5h2M507 845.5h2M1091 845.5h2M1274 845.5h2M336 846.5h2M425 846.5h2M938 846.5h4M1088 846.5h3M1102 846.5h2M456 847.5h2M785 847.5h3M942 847.5h5M1084 847.5h4M458 848.5h2M782 848.5h3M788 848.5h4M808 848.5h3M1082 848.5h2M460 849.5h4M780 849.5h2M792 849.5h6M804 849.5h4M1106 849.5h4M430 850.5h2M464 850.5h11M778 850.5h2M798 850.5h6M1110 850.5h13M475 851.5h2M731 851.5h2M477 852.5h2M733 852.5h2M1396 852.5h2M50 853.5h2M434 853.5h2M479 853.5h2M735 853.5h2M436 854.5h4M481 854.5h3M497 854.5h2M737 854.5h2M1201 854.5h2M440 855.5h3M484 855.5h2M494 855.5h3M1400 855.5h2M486 856.5h3M492 856.5h2M489 857.5h3M1404 858.5h2M106 859.5h2M1034 859.5h9M108 860.5h2M120 860.5h3M1432 860.5h2M110 861.5h3M116 861.5h4M1408 861.5h2M113 862.5h3M1410 862.5h2M1412 863.5h4M1428 863.5h2M1416 864.5h6M1422 865.5h5M34 866.5h2M36 867.5h4M40 868.5h3M75 868.5h2M78 870.5h2M1050 870.5h2M80 871.5h2M1052 871.5h4M1056 872.5h11M1067 873.5h2M84 874.5h2M1070 875.5h2M1072 876.5h3M88 877.5h2M91 879.5h2M93 880.5h2M95 881.5h2M97 882.5h2M0.5 813v1M1.5 814v1M2.5 815v1M3.5 816v2M4.5 818v2M5.5 820v2M6.5 822v2M7.5 824v2M8.5 826v2M9.5 828v2M10.5 830v1M19.5 831v2M20.5 833v2M21.5 835v1M22.5 836v2M23.5 838v1M24.5 839v2M25.5 841v2M26.5 843v2M27.5 845v3M28.5 848v3M29.5 851v3M30.5 854v2M31.5 856v3M32.5 859v3M33.5 862v3M34.5 865v1M43.5 866v2M44.5 864v2M45.5 862v2M46.5 860v2M47.5 858v2M48.5 856v2M49.5 854v2M50.5 852v1M51.5 854v1M52.5 855v2M53.5 857v2M54.5 859v1M55.5 860v2M56.5 862v2M57.5 864v2M58.5 866v1M59.5 864v2M60.5 863v1M61.5 862v1M62.5 860v2M63.5 859v1M64.5 858v1M65.5 856v2M66.5 855v1M67.5 856v2M68.5 858v1M69.5 859v2M70.5 861v1M71.5 862v2M72.5 864v1M73.5 865v2M74.5 867v1M77.5 869v1M82.5 872v1M83.5 873v1M86.5 875v1M87.5 876v1M90.5 878v1M98.5 881v1M99.5 878v3M100.5 875v3M101.5 872v3M102.5 870v2M103.5 867v3M104.5 864v3M105.5 861v3M106.5 860v1M122.5 859v1M123.5 855v4M124.5 851v4M125.5 847v4M126.5 844v3M127.5 840v4M128.5 836v4M129.5 832v4M130.5 830v1M131.5 832v1M132.5 833v1M133.5 834v1M134.5 835v2M135.5 837v1M136.5 838v1M137.5 839v2M147.5 842v1M148.5 841v1M149.5 840v1M150.5 838v2M151.5 837v1M152.5 836v1M153.5 835v1M154.5 834v1M155.5 833v1M158.5 831v1M159.5 830v1M162.5 828v1M163.5 826v2M164.5 824v2M165.5 822v2M166.5 820v2M167.5 818v2M168.5 816v2M169.5 814v2M170.5 813v1M179.5 815v1M182.5 817v1M183.5 818v1M211.5 819v2M212.5 821v2M213.5 823v1M214.5 824v2M215.5 826v1M216.5 827v2M217.5 829v2M218.5 831v1M219.5 832v1M220.5 833v1M221.5 834v1M222.5 835v2M223.5 837v1M224.5 838v1M225.5 839v1M237.5 841v1M242.5 838v1M259.5 842v1M262.5 840v1M263.5 839v1M309.5 832v1M323.5 837v1M326.5 839v1M327.5 840v1M330.5 842v1M333.5 844v1M338.5 847v1M339.5 846v1M342.5 844v1M343.5 843v1M427.5 847v1M428.5 848v1M429.5 849v1M432.5 851v1M433.5 852v1M443.5 853v2M444.5 851v2M445.5 850v1M446.5 848v2M447.5 847v1M448.5 845v2M449.5 843v2M450.5 842v1M451.5 843v1M454.5 845v1M455.5 846v1M499.5 853v1M500.5 852v1M501.5 851v1M502.5 850v1M503.5 849v1M504.5 848v1M505.5 847v1M506.5 846v1M509.5 844v1M514.5 841v1M515.5 839v2M516.5 837v2M517.5 836v1M518.5 834v2M519.5 833v1M520.5 831v2M521.5 829v2M522.5 828v1M523.5 829v1M524.5 830v1M525.5 831v1M526.5 832v1M527.5 833v1M528.5 834v1M529.5 835v1M530.5 836v1M539.5 839v1M540.5 838v1M541.5 837v1M542.5 836v1M543.5 835v1M544.5 834v1M545.5 833v1M571.5 830v1M572.5 829v1M573.5 828v1M574.5 827v1M575.5 826v1M576.5 825v1M577.5 824v1M578.5 823v1M581.5 825v1M621.5 829v1M626.5 832v1M627.5 831v1M628.5 830v1M629.5 829v1M632.5 827v1M633.5 826v1M634.5 825v1M661.5 830v1M666.5 833v1M667.5 829v3M668.5 825v4M669.5 822v3M670.5 819v3M671.5 816v3M672.5 812v4M673.5 809v3M674.5 808v1M691.5 801v1M694.5 799v1M695.5 798v1M706.5 797v1M707.5 798v4M708.5 802v4M709.5 806v4M710.5 810v4M711.5 814v4M712.5 818v4M713.5 822v4M714.5 826v2M715.5 828v1M716.5 829v2M717.5 831v1M718.5 832v1M719.5 833v1M720.5 834v2M721.5 836v1M722.5 837v1M723.5 838v2M724.5 840v2M725.5 842v1M726.5 843v2M727.5 845v1M728.5 846v2M729.5 848v2M730.5 850v1M739.5 852v2M740.5 851v1M741.5 849v2M742.5 848v1M743.5 846v2M744.5 845v1M745.5 843v2M771.5 842v1M772.5 843v1M773.5 844v1M774.5 845v2M775.5 847v1M776.5 848v1M777.5 849v1M811.5 849v1M812.5 850v1M813.5 851v1M814.5 852v2M815.5 854v1M816.5 855v1M817.5 856v1M818.5 857v1M819.5 855v2M820.5 853v2M821.5 851v2M822.5 849v2M823.5 847v2M824.5 845v2M825.5 843v2M851.5 837v1M852.5 836v1M853.5 835v1M854.5 833v2M855.5 832v1M856.5 831v1M857.5 830v1M858.5 829v1M859.5 828v1M860.5 827v1M861.5 826v1M862.5 825v1M863.5 824v1M864.5 823v1M865.5 822v1M866.5 821v1M867.5 822v2M868.5 824v2M869.5 826v2M870.5 828v1M871.5 829v2M872.5 831v2M873.5 833v2M901.5 833v1M906.5 836v1M909.5 834v1M914.5 831v1M915.5 832v1M916.5 833v1M917.5 834v1M920.5 836v1M921.5 837v1M931.5 840v1M932.5 841v1M933.5 842v1M936.5 844v1M937.5 845v1M947.5 845v2M948.5 844v1M949.5 843v1M950.5 841v2M951.5 840v1M952.5 839v1M953.5 837v2M963.5 838v1M964.5 839v1M965.5 840v1M966.5 841v2M967.5 843v1M968.5 844v1M969.5 845v1M970.5 846v1M971.5 844v2M972.5 843v1M973.5 842v1M974.5 840v2M975.5 839v1M976.5 838v1M977.5 836v2M978.5 835v1M979.5 836v1M980.5 837v1M981.5 838v1M982.5 839v1M983.5 840v1M984.5 841v1M985.5 842v1M986.5 843v1M1003.5 838v1M1004.5 839v1M1005.5 840v1M1006.5 841v2M1007.5 843v1M1008.5 844v1M1009.5 845v1M1010.5 846v1M1011.5 845v1M1012.5 843v2M1013.5 842v1M1014.5 841v1M1015.5 840v1M1016.5 838v2M1017.5 837v1M1018.5 836v1M1019.5 837v1M1020.5 838v1M1021.5 839v1M1022.5 840v1M1023.5 841v1M1024.5 842v1M1025.5 843v1M1026.5 844v1M1027.5 845v2M1028.5 847v2M1029.5 849v2M1030.5 851v2M1031.5 853v2M1032.5 855v2M1033.5 857v2M1043.5 860v2M1044.5 862v1M1045.5 863v1M1046.5 864v2M1047.5 866v1M1048.5 867v1M1049.5 868v2M1069.5 874v1M1074.5 877v1M1075.5 872v4M1076.5 868v4M1077.5 865v3M1078.5 861v4M1079.5 858v3M1080.5 854v4M1081.5 850v4M1082.5 849v1M1099.5 843v1M1100.5 844v1M1101.5 845v1M1104.5 847v1M1105.5 848v1M1123.5 849v1M1124.5 848v1M1125.5 847v1M1126.5 845v2M1127.5 844v1M1128.5 843v1M1129.5 842v1M1147.5 837v2M1148.5 835v2M1149.5 834v1M1150.5 832v2M1151.5 831v1M1152.5 829v2M1153.5 827v2M1154.5 826v1M1157.5 824v1M1171.5 819v2M1172.5 821v1M1173.5 822v1M1174.5 823v2M1175.5 825v1M1176.5 826v1M1177.5 827v2M1187.5 830v2M1188.5 832v2M1189.5 834v1M1190.5 835v2M1191.5 837v1M1192.5 838v2M1193.5 840v2M1194.5 842v1M1195.5 843v2M1196.5 845v2M1197.5 847v1M1198.5 848v2M1199.5 850v1M1200.5 851v2M1201.5 853v1M1202.5 855v1M1203.5 852v2M1204.5 850v2M1205.5 848v2M1206.5 845v3M1207.5 843v2M1208.5 841v2M1209.5 839v2M1210.5 837v1M1212.5 839v1M1213.5 840v1M1216.5 842v1M1217.5 843v1M1243.5 836v1M1244.5 835v1M1245.5 834v1M1246.5 833v1M1247.5 832v1M1248.5 831v1M1249.5 830v1M1250.5 829v1M1251.5 830v2M1252.5 832v1M1253.5 833v1M1254.5 834v2M1255.5 836v1M1256.5 837v1M1257.5 838v2M1258.5 840v1M1259.5 838v2M1260.5 836v2M1261.5 834v2M1262.5 833v1M1263.5 831v2M1264.5 829v2M1265.5 828v1M1266.5 826v1M1267.5 828v2M1268.5 830v2M1269.5 832v3M1270.5 835v2M1271.5 837v3M1272.5 840v2M1273.5 842v2M1274.5 844v1M1283.5 842v1M1284.5 841v1M1285.5 840v1M1288.5 838v1M1289.5 837v1M1301.5 835v1M1339.5 831v1M1340.5 832v1M1341.5 833v1M1344.5 835v1M1345.5 836v1M1346.5 837v1M1349.5 835v1M1379.5 835v1M1380.5 836v1M1381.5 837v1M1382.5 838v1M1383.5 839v1M1384.5 840v1M1385.5 841v1M1386.5 842v1M1387.5 843v1M1388.5 844v1M1389.5 845v1M1390.5 846v1M1391.5 847v1M1392.5 848v1M1393.5 849v1M1394.5 850v1M1395.5 851v1M1398.5 853v1M1399.5 854v1M1402.5 856v1M1403.5 857v1M1406.5 859v1M1407.5 860v1M1427.5 864v1M1430.5 862v1M1431.5 861v1M1434.5 859v1" stroke="#1e90ff" fill="none" stroke-width="1" shape-rendering="crispEdges"/>
<line x1="1379.0" y1="319.5" x2="1436.1" y2="416.6" stroke="#ff0000" stroke-width="3.7"/><polygon points="1441.2,425.2 1430.6,417.5 1439.6,412.2" fill="#ff0000"/>
<line x1="1440.6" y1="424.0" x2="1440.6" y2="402.0" stroke="#ff0000" stroke-width="3"/><polygon points="1440.6,394.0 1445.2,404.0 1436.0,404.0" fill="#ff0000"/>
<rect x="1365" y="375" width="116" height="9" fill="#00ff00" shape-rendering="crispEdges"/>
<line x1="1382.3" y1="635.3" x2="1457.8" y2="663.3" stroke="#ff0000" stroke-width="3.7"/><polygon points="1467.2,666.8 1454.1,667.5 1457.8,657.8" fill="#ff0000"/>
<line x1="1363.5" y1="833.5" x2="1434.9" y2="858.7" stroke="#ff0000" stroke-width="3.7"/><polygon points="1444.3,862.0 1431.3,862.9 1434.7,853.1" fill="#ff0000"/>
<g shape-rendering="crispEdges"><rect x="1267" y="379" width="11" height="1" fill="#ff0000"/><rect x="1277.5" y="367.5" width="73" height="24" fill="#fff" stroke="#ff0000" stroke-width="1"/></g>
<text x="1280.2" y="387.7" font-family='"Liberation Sans", sans-serif' font-size="21.7" fill="#ff0000" textLength="68" lengthAdjust="spacingAndGlyphs">104.893</text>
<text x="1498" y="383.5" font-family='"Liberation Serif", "Noto Serif CJK SC", serif' font-size="21.5" font-weight="bold" fill="#00ff00" textLength="114" lengthAdjust="spacing">多空转折点</text>
<g font-family='"Liberation Sans", sans-serif' font-size="9" fill="#000">
<rect x="1688" y="42" width="2" height="1" fill="#000" shape-rendering="crispEdges"/>
<text x="1693.5" y="45.7">111.810</text>
<rect x="1688" y="75" width="2" height="1" fill="#000" shape-rendering="crispEdges"/>
<text x="1693.5" y="78.7">111.130</text>
<rect x="1688" y="108" width="2" height="1" fill="#000" shape-rendering="crispEdges"/>
<text x="1693.5" y="111.7">110.470</text>
<rect x="1688" y="141" width="2" height="1" fill="#000" shape-rendering="crispEdges"/>
<text x="1693.5" y="144.7">109.790</text>
<rect x="1688" y="174" width="2" height="1" fill="#000" shape-rendering="crispEdges"/>
<text x="1693.5" y="177.7">109.110</text>
<rect x="1688" y="207" width="2" height="1" fill="#000" shape-rendering="crispEdges"/>
<text x="1693.5" y="210.7">108.430</text>
<rect x="1688" y="240" width="2" height="1" fill="#000" shape-rendering="crispEdges"/>
<text x="1693.5" y="243.7">107.750</text>
<rect x="1688" y="273" width="2" height="1" fill="#000" shape-rendering="crispEdges"/>
<text x="1693.5" y="276.7">107.070</text>
<rect x="1688" y="306" width="2" height="1" fill="#000" shape-rendering="crispEdges"/>
<text x="1693.5" y="309.7">106.390</text>
<rect x="1688" y="339" width="2" height="1" fill="#000" shape-rendering="crispEdges"/>
<text x="1693.5" y="342.7">105.710</text>
<rect x="1688" y="372" width="2" height="1" fill="#000" shape-rendering="crispEdges"/>
<text x="1693.5" y="375.7">105.030</text>
<rect x="1688" y="405" width="2" height="1" fill="#000" shape-rendering="crispEdges"/>
<text x="1693.5" y="408.7">104.350</text>
<rect x="1688" y="438" width="2" height="1" fill="#000" shape-rendering="crispEdges"/>
<text x="1693.5" y="441.7">103.670</text>
<rect x="1688" y="471" width="2" height="1" fill="#000" shape-rendering="crispEdges"/>
<text x="1693.5" y="474.7">102.990</text>
<rect x="1688" y="504" width="2" height="1" fill="#000" shape-rendering="crispEdges"/>
<text x="1693.5" y="507.7">102.310</text>
<rect x="1688" y="537" width="2" height="1" fill="#000" shape-rendering="crispEdges"/>
<text x="1693.5" y="540.7">101.630</text>
<rect x="1688" y="570" width="2" height="1" fill="#000" shape-rendering="crispEdges"/>
<text x="1693.5" y="573.7">100.970</text>
<text x="1691.5" y="586.0">0.8034</text>
<text x="1691.5" y="636.8">0.00</text>
<text x="1691.5" y="742.0">-1.5784</text>
<rect x="1688" y="633" width="2" height="1" fill="#000" shape-rendering="crispEdges"/>
<rect x="1688" y="576" width="1" height="1" fill="#000" shape-rendering="crispEdges"/>
<rect x="1688" y="744" width="1" height="1" fill="#000" shape-rendering="crispEdges"/>
<rect x="1688" y="749" width="1" height="1" fill="#000" shape-rendering="crispEdges"/>
<text x="1691.5" y="758.1">100</text>
<text x="1690.5" y="786.9">80</text>
<text x="1690.5" y="837.9">50</text>
<text x="1690.5" y="898.9">15</text>
<text x="1691.5" y="918.2">0</text>
<rect x="1689" y="331" width="41" height="11" fill="#ff0000" shape-rendering="crispEdges"/>
<text x="1693.5" y="340" fill="#fff">105.754</text>
<rect x="1689" y="349" width="41" height="11" fill="#ff0000" shape-rendering="crispEdges"/>
<text x="1693.5" y="358" fill="#fff">105.388</text>
<rect x="1689" y="373" width="41" height="11" fill="#32cd32" shape-rendering="crispEdges"/>
<text x="1693.5" y="382" fill="#fff">104.893</text>
<rect x="1689" y="384" width="41" height="11" fill="#000000" shape-rendering="crispEdges"/>
<text x="1693.5" y="393" fill="#fff">104.683</text>
<rect x="1689" y="409" width="41" height="11" fill="#0000ff" shape-rendering="crispEdges"/>
<text x="1693.5" y="418" fill="#fff">104.140</text>
<rect x="1689" y="431" width="41" height="11" fill="#0000ff" shape-rendering="crispEdges"/>
<text x="1693.5" y="440" fill="#fff">103.688</text>
<rect x="-6" y="922" width="1" height="3" fill="#000" shape-rendering="crispEdges"/>
<text x="-6.5" y="934" font-size="9.15">23 Feb 2020</text>
<rect x="58" y="922" width="1" height="3" fill="#000" shape-rendering="crispEdges"/>
<text x="57.5" y="934" font-size="9.15">3 Mar 2020</text>
<rect x="122" y="922" width="1" height="3" fill="#000" shape-rendering="crispEdges"/>
<text x="121.5" y="934" font-size="9.15">12 Mar 2020</text>
<rect x="186" y="922" width="1" height="3" fill="#000" shape-rendering="crispEdges"/>
<text x="185.5" y="934" font-size="9.15">22 Mar 2020</text>
<rect x="250" y="922" width="1" height="3" fill="#000" shape-rendering="crispEdges"/>
<text x="249.5" y="934" font-size="9.15">31 Mar 2020</text>
<rect x="314" y="922" width="1" height="3" fill="#000" shape-rendering="crispEdges"/>
<text x="313.5" y="934" font-size="9.15">9 Apr 2020</text>
<rect x="378" y="922" width="1" height="3" fill="#000" shape-rendering="crispEdges"/>
<text x="377.5" y="934" font-size="9.15">20 Apr 2020</text>
<rect x="442" y="922" width="1" height="3" fill="#000" shape-rendering="crispEdges"/>
<text x="441.5" y="934" font-size="9.15">29 Apr 2020</text>
<rect x="506" y="922" width="1" height="3" fill="#000" shape-rendering="crispEdges"/>
<text x="505.5" y="934" font-size="9.15">8 May 2020</text>
<rect x="570" y="922" width="1" height="3" fill="#000" shape-rendering="crispEdges"/>
<text x="569.5" y="934" font-size="9.15">18 May 2020</text>
<rect x="634" y="922" width="1" height="3" fill="#000" shape-rendering="crispEdges"/>
<text x="633.5" y="934" font-size="9.15">27 May 2020</text>
<rect x="698" y="922" width="1" height="3" fill="#000" shape-rendering="crispEdges"/>
<text x="697.5" y="934" font-size="9.15">5 Jun 2020</text>
<rect x="762" y="922" width="1" height="3" fill="#000" shape-rendering="crispEdges"/>
<text x="761.5" y="934" font-size="9.15">15 Jun 2020</text>
<rect x="826" y="922" width="1" height="3" fill="#000" shape-rendering="crispEdges"/>
<text x="825.5" y="934" font-size="9.15">24 Jun 2020</text>
<rect x="890" y="922" width="1" height="3" fill="#000" shape-rendering="crispEdges"/>
<text x="889.5" y="934" font-size="9.15">3 Jul 2020</text>
<rect x="954" y="922" width="1" height="3" fill="#000" shape-rendering="crispEdges"/>
<text x="953.5" y="934" font-size="9.15">13 Jul 2020</text>
<rect x="1018" y="922" width="1" height="3" fill="#000" shape-rendering="crispEdges"/>
<text x="1017.5" y="934" font-size="9.15">22 Jul 2020</text>
<rect x="1082" y="922" width="1" height="3" fill="#000" shape-rendering="crispEdges"/>
<text x="1081.5" y="934" font-size="9.15">31 Jul 2020</text>
<rect x="1146" y="922" width="1" height="3" fill="#000" shape-rendering="crispEdges"/>
<text x="1145.5" y="934" font-size="9.15">10 Aug 2020</text>
<rect x="1210" y="922" width="1" height="3" fill="#000" shape-rendering="crispEdges"/>
<text x="1209.5" y="934" font-size="9.15">19 Aug 2020</text>
<rect x="1274" y="922" width="1" height="3" fill="#000" shape-rendering="crispEdges"/>
<text x="1273.5" y="934" font-size="9.15">28 Aug 2020</text>
<rect x="1338" y="922" width="1" height="3" fill="#000" shape-rendering="crispEdges"/>
<text x="1337.5" y="934" font-size="9.15">7 Sep 2020</text>
<rect x="1402" y="922" width="1" height="3" fill="#000" shape-rendering="crispEdges"/>
<text x="1401.5" y="934" font-size="9.15">16 Sep 2020</text>
<text x="9.5" y="32" textLength="63" lengthAdjust="spacingAndGlyphs">USDJPY-,Daily</text>
<text x="79.4" y="32" textLength="140.4" lengthAdjust="spacingAndGlyphs">104.527 104.843 103.994 104.683</text>
<text x="-1.5" y="588" textLength="133.7" lengthAdjust="spacingAndGlyphs">MACD(12,26,9) -0.3697 -0.1596</text>
<text x="-2" y="760" textLength="68" lengthAdjust="spacingAndGlyphs">RSI(14) 35.5433</text>
</g>
<polygon points="0,27.5 0,31.5 4.5,31.5" fill="#000"/>
<polygon points="1444,21 1453,21 1448.5,26" fill="#c0c0c0"/></svg>
<div id="tb"><div class="l1"></div><div class="l2"></div><div class="l3"></div><svg width="1732" height="16" viewBox="0 0 1732 16" style="position:absolute;left:0;top:0;font-family:'Liberation Sans',sans-serif"><rect x="-3" y="-4" width="13.5" height="14.3" fill="#fff" stroke="#3b7fcb" stroke-width="1.3"/><rect x="0" y="3.2" width="2.5" height="1" fill="#222"/><rect x="4" y="3.2" width="5" height="1" fill="#bcd2f0"/><rect x="0" y="5.2" width="2.5" height="1" fill="#ff2020"/><rect x="4" y="5.2" width="5" height="1" fill="#bcd2f0"/><rect x="0" y="1" width="2.5" height="1" fill="#222"/><rect x="4" y="1" width="5" height="1" fill="#bcd2f0"/><rect x="23.5" y="-3" width="9" height="11.5" fill="#fcfcfc" stroke="#b0a890" stroke-width=".9"/><line x1="35" y1="7" x2="39.5" y2="12" stroke="#c9a227" stroke-width="2.4" stroke-linecap="round"/><circle cx="31" cy="3.5" r="5.3" fill="#d7ebf8" fill-opacity=".92" stroke="#5a8fd8" stroke-width="1.1"/><rect x="29" y="0" width="4" height="6" fill="#9db4c4"/><rect x="47.8" y="0" width="1" height="13.5" fill="#a0a0a0"/><rect x="58.5" y="-3" width="11" height="12.3" rx="1" fill="#fdfdfd" stroke="#8a8a8a" stroke-width=".9"/><rect x="60.5" y="3" width="6" height=".9" fill="#999"/><rect x="60.5" y="5" width="6" height=".9" fill="#999"/><path d="M66 2.5h4v3.5h3.5v4h-3.5v3.5h-4v-3.5h-3.5v-4h3.5z" fill="#27c027" stroke="#0d8a0d" stroke-width=".8"/><text x="76.5" y="6.9" font-family='"Liberation Sans", "Noto Sans CJK SC", sans-serif' font-size="12.2" fill="#000">新订单</text><defs><linearGradient id="gb" x1="0" y1="0" x2="1" y2="1"><stop offset="0" stop-color="#eebb18"/><stop offset=".6" stop-color="#f7d648"/><stop offset="1" stop-color="#fbe88a"/></linearGradient></defs><path d="M129.4 -1 L125.1 6.1 L132.5 12 L140.9 6.1 L135 -1 Z" fill="#c98d17" stroke="#a86c10" stroke-width=".9" stroke-linejoin="round"/><path d="M133.6 10.6 L139.9 6 L138.6 4.4 L132.8 9 Z" fill="#e8dca0"/><path d="M129.6 -1 L126 5.2 L133.2 9 L138.4 3.8 L135 -1 Z" fill="url(#gb)"/><path d="M125.9 6.2 L132.6 11.2" fill="none" stroke="#f3cf58" stroke-width=".9"/><defs><linearGradient id="cl" x1="0" y1="0" x2="0" y2="1"><stop offset="0" stop-color="#ffffff"/><stop offset=".55" stop-color="#f2f5fa"/><stop offset="1" stop-color="#b4c4de"/></linearGradient></defs><rect x="155" y="-3" width="11.1" height="9" fill="#1a93fb"/><rect x="158.2" y="-3" width="1" height="8" fill="#bfe0ff"/><rect x="160" y="1" width="4.4" height="1" fill="#e4f2ff"/><path d="M155.6 11.6 a2.3 2.3 0 0 1 -.5 -4.5 a2.3 2.3 0 0 1 3.4 -1.3 a2.9 2.9 0 0 1 5.4 -.2 a2.5 2.5 0 0 1 4.5 2.2 a2.0 2.0 0 0 1 -1.2 3.8 z" fill="url(#cl)" stroke="#3f5f9f" stroke-width=".9"/><defs><radialGradient id="sg" cx="189" cy="3.5" r="8" gradientUnits="userSpaceOnUse"><stop offset="0" stop-color="#e4f2e0"/><stop offset=".55" stop-color="#a9d6a2"/><stop offset=".85" stop-color="#4fa957"/><stop offset="1" stop-color="#2f7f86"/></radialGradient></defs><path d="M189 3.5 L189 11.5 A8 8 0 0 0 193.6 -3 Z" fill="url(#sg)"/><circle cx="189" cy="3.5" r="4.4" fill="none" stroke="#3f72d8" stroke-width="1" stroke-opacity="0.75" stroke-dasharray="11.4 16.3" stroke-dashoffset="-6.4"/><circle cx="189" cy="3.5" r="4.4" fill="none" stroke="#2f7a8a" stroke-width=".9" stroke-opacity=".45" stroke-dasharray="8.4 19.4" stroke-dashoffset="5.3"/><circle cx="189" cy="3.5" r="7.4" fill="none" stroke="#3f72d8" stroke-width="1" stroke-opacity="0.8" stroke-dasharray="19.2 27.4" stroke-dashoffset="-10.7"/><circle cx="189" cy="3.5" r="7.4" fill="none" stroke="#2f7a8a" stroke-width=".9" stroke-opacity=".45" stroke-dasharray="14.1 32.6" stroke-dashoffset="8.9"/><rect x="188.9" y="3.8" width="1.3" height="8" fill="#17a317"/><circle cx="189" cy="3.4" r="1.8" fill="#204fd2"/><path d="M208.2 3.4 L224 3 L223.8 4.6 L221 11.8 L215 11.8 L209 5.6 Z" fill="#f6d94f" stroke="#c9a020" stroke-width=".7"/><path d="M211 5 L220 4.6 L216.5 10.5Z" fill="#fbee9a" fill-opacity=".8"/><ellipse cx="215.9" cy="0.6" rx="7.8" ry="2.8" fill="#62bdf0" stroke="#1f8bcb" stroke-width=".9"/><ellipse cx="215.9" cy="-.2" rx="4.5" ry="1.3" fill="#a8dcf8"/><circle cx="220.5" cy="7.8" r="4.1" fill="#e32a12" stroke="#b41a08" stroke-width=".7"/><rect x="218.9" y="6.2" width="3.3" height="3.3" fill="#fff"/><text x="229.5" y="6.9" font-family='"Liberation Sans", "Noto Sans CJK SC", sans-serif' font-size="12.2" fill="#000">自动交易</text><rect x="283.8" y="0" width="1" height="16" fill="#8c8c8c"/><rect x="285" y="0" width="1" height="16" fill="#fafafa"/><rect x="288" y="0.3" width="3" height="1" fill="#b0b0b0"/><rect x="288" y="2.3" width="3" height="1" fill="#b0b0b0"/><rect x="288" y="4.3" width="3" height="1" fill="#b0b0b0"/><rect x="288" y="6.3" width="3" height="1" fill="#b0b0b0"/><rect x="288" y="8.3" width="3" height="1" fill="#b0b0b0"/><rect x="288" y="10.3" width="3" height="1" fill="#b0b0b0"/><rect x="288" y="12.3" width="3" height="1" fill="#b0b0b0"/><rect x="301.9" y="0" width="1.2" height="11.5" fill="#505050"/><rect x="300.0" y="8.7" width="13" height="1.2" fill="#505050"/><polygon points="312.0,7.3 314.5,9.3 312.0,11.3" fill="#505050"/><path d="M306 6.5h2.2v-6.8h2.6" fill="none" stroke="#1c8c1c" stroke-width="1.4"/><rect x="321.8" y="0" width="1" height="13.5" fill="#a0a0a0"/><rect x="323.5" y="0" width="23.0" height="13.5" fill="#f8f8f8"/><rect x="329.9" y="0" width="1.2" height="11.5" fill="#505050"/><rect x="328.0" y="8.7" width="13" height="1.2" fill="#505050"/><polygon points="340.0,7.3 342.5,9.3 340.0,11.3" fill="#505050"/><rect x="334" y="-2" width="5" height="8" fill="#22b422" stroke="#157a15" stroke-width=".7"/><rect x="336" y="6" width="1.2" height="2" fill="#157a15"/><rect x="357.9" y="0" width="1.2" height="11.5" fill="#505050"/><rect x="356.0" y="8.7" width="13" height="1.2" fill="#505050"/><polygon points="368.0,7.3 370.5,9.3 368.0,11.3" fill="#505050"/><path d="M357 7 C361 3.5 362.5 -.5 364.5 1.5 S367 4 369 5" fill="none" stroke="#2a9a2a" stroke-width="1.3"/><rect x="379.0" y="0" width="1" height="13.5" fill="#a0a0a0"/><line x1="398" y1="5.5" x2="403" y2="10.5" stroke="#c9a227" stroke-width="2.6" stroke-linecap="round"/><circle cx="394" cy="1.5" r="5.3" fill="#d6ecfb" stroke="#3a80d2" stroke-width="1.3"/><rect x="391" y="0.8" width="6" height="1.5" fill="#2e6cc4"/><rect x="393.25" y="-1.5" width="1.5" height="6" fill="#2e6cc4"/><line x1="426.5" y1="5.5" x2="431.5" y2="10.5" stroke="#c9a227" stroke-width="2.6" stroke-linecap="round"/><circle cx="422.5" cy="1.5" r="5.3" fill="#d6ecfb" stroke="#3a80d2" stroke-width="1.3"/><rect x="419.5" y="0.8" width="6" height="1.5" fill="#2e6cc4"/><rect x="444.5" y="-4" width="7.4" height="7.3" fill="#4aa12a"/><rect x="445.7" y="-0.7999999999999998" width="5" height="1.2" fill="#fff"/><rect x="445.7" y="-0.7999999999999998" width="1.2" height="3" fill="#fff"/><rect x="449.5" y="-0.7999999999999998" width="1.2" height="3" fill="#fff"/><rect x="452.7" y="-4" width="7.4" height="7.3" fill="#2d63d8"/><rect x="453.9" y="-0.7999999999999998" width="5" height="1.2" fill="#fff"/><rect x="453.9" y="-0.7999999999999998" width="1.2" height="3" fill="#fff"/><rect x="457.7" y="-0.7999999999999998" width="1.2" height="3" fill="#fff"/><rect x="444.5" y="4.2" width="7.4" height="7.3" fill="#2d63d8"/><rect x="445.7" y="7.4" width="5" height="1.2" fill="#fff"/><rect x="445.7" y="7.4" width="1.2" height="3" fill="#fff"/><rect x="449.5" y="7.4" width="1.2" height="3" fill="#fff"/><rect x="452.7" y="4.2" width="7.4" height="7.3" fill="#4aa12a"/><rect x="453.9" y="7.4" width="5" height="1.2" fill="#fff"/><rect x="453.9" y="7.4" width="1.2" height="3" fill="#fff"/><rect x="457.7" y="7.4" width="1.2" height="3" fill="#fff"/><rect x="468.8" y="0" width="1" height="13.5" fill="#a0a0a0"/><rect x="473.5" y="0" width="1" height="13.5" fill="#a0a0a0"/><rect x="475" y="0" width="24" height="13.5" fill="#f8f8f8"/><rect x="481.9" y="0" width="1.2" height="11.5" fill="#505050"/><rect x="480.0" y="8.7" width="13" height="1.2" fill="#505050"/><polygon points="492.0,7.3 494.5,9.3 492.0,11.3" fill="#505050"/><path d="M487.3 -.8 L491.5 3.2 L487.3 6.6Z" fill="#8fd88f" stroke="#1f9a1f" stroke-width="1"/><rect x="501.8" y="0" width="1" height="13.5" fill="#a0a0a0"/><rect x="503.5" y="0" width="23.5" height="13.5" fill="#f8f8f8"/><rect x="509.9" y="0" width="1.2" height="11.5" fill="#505050"/><rect x="508.0" y="8.7" width="13" height="1.2" fill="#505050"/><polygon points="520.0,7.3 522.5,9.3 520.0,11.3" fill="#505050"/><rect x="516" y="0" width="1.3" height="8" fill="#1f6fb0"/><path d="M517.8 3.6 L521 1.2 L520.3 3.1 L522.5 3.6 L520.3 4.1 L521 6Z" fill="#e04a10" stroke="#c03000" stroke-width=".5"/><rect x="530.8" y="0" width="1" height="13.5" fill="#a0a0a0"/><rect x="541.5" y="-3" width="11" height="12" rx="1" fill="#fdfdfd" stroke="#8a8a8a" stroke-width=".9"/><rect x="543.5" y="1" width="1" height="5" fill="#777"/><path d="M549 2.5h4v3.5h3.5v4h-3.5v3.5h-4v-3.5h-3.5v-4h3.5z" fill="#27c027" stroke="#0d8a0d" stroke-width=".8"/><polygon points="563,3 568.5,3 565.75,6.2" fill="#111"/><circle cx="587" cy="3.5" r="7.2" fill="#fdfdfd" stroke="#1f6fd0" stroke-width="2"/><path d="M586.5 -1v4.5h3.5" fill="none" stroke="#333" stroke-width="1.2"/><circle cx="587" cy="3.5" r="5.4" fill="none" stroke="#c8daf0" stroke-width=".8"/><polygon points="602,3 607.5,3 604.75,6.2" fill="#111"/><rect x="618.7" y="-3" width="15" height="13.4" fill="#fff" stroke="#3b7fcb" stroke-width="1.2"/><rect x="619" y="5" width="14.4" height="1" fill="#6a9ad8"/><path d="M620.5 3.5 l3-1 2-1 2 .6 2-1 2.5-.3" fill="none" stroke="#b02010" stroke-width="1.1"/><path d="M620.5 8.6 l2.5-1 2 .8 2-1.6 2 .3 2 1.6" fill="none" stroke="#1c9a1c" stroke-width="1.1"/><polygon points="641,3 646.5,3 643.75,6.2" fill="#111"/><rect x="652.0" y="0" width="1" height="16" fill="#8c8c8c"/><rect x="653.2" y="0" width="1" height="16" fill="#fafafa"/><rect x="656" y="0.3" width="3" height="1" fill="#b0b0b0"/><rect x="656" y="2.3" width="3" height="1" fill="#b0b0b0"/><rect x="656" y="4.3" width="3" height="1" fill="#b0b0b0"/><rect x="656" y="6.3" width="3" height="1" fill="#b0b0b0"/><rect x="656" y="8.3" width="3" height="1" fill="#b0b0b0"/><rect x="656" y="10.3" width="3" height="1" fill="#b0b0b0"/><rect x="656" y="12.3" width="3" height="1" fill="#b0b0b0"/><rect x="662.0" y="0" width="1" height="13.5" fill="#a0a0a0"/><rect x="663.5" y="0" width="23.5" height="13.5" fill="#f8f8f8"/><path d="M670.3 -3 L670.3 6.8 L672.6 4.9 L675 10.5 L677 9.6 L674.6 4.2 L678 4 Z" fill="#4c4c4c"/><rect x="702" y="0" width="1.1" height="11.5" fill="#555"/><rect x="695" y="3.8" width="15" height="1.1" fill="#555"/><rect x="701" y="3.8" width="3" height="1.1" fill="#f0f0f0"/><rect x="702" y="3.8" width="1.1" height="1.1" fill="#555"/><rect x="719.0" y="0" width="1" height="13.5" fill="#a0a0a0"/><rect x="736" y="0" width="1.2" height="11" fill="#444"/><rect x="759" y="3.7" width="12" height="1.2" fill="#444"/><line x1="787" y1="11" x2="798.5" y2="-.5" stroke="#555" stroke-width="1.1"/><line x1="813" y1="9.5" x2="821" y2="-1.0" stroke="#444" stroke-width=".9"/><line x1="815.2" y1="10.16" x2="823.2" y2="-0.33999999999999997" stroke="#444" stroke-width=".9"/><line x1="817.4" y1="10.82" x2="825.4" y2="0.32000000000000006" stroke="#444" stroke-width=".9"/><line x1="812" y1="5.5" x2="826" y2="1.5" stroke="#444" stroke-width=".8"/><line x1="814" y1="9.5" x2="827" y2="5" stroke="#444" stroke-width=".8"/><text x="823.6" y="12.6" font-size="6.5" font-weight="bold" fill="#333">E</text><line x1="842" y1="0.7" x2="855" y2="0.7" stroke="#444" stroke-width="1" stroke-dasharray="1 1"/><line x1="842" y1="4.3" x2="855" y2="4.3" stroke="#444" stroke-width="1" stroke-dasharray="1 1"/><line x1="842" y1="8.5" x2="851" y2="8.5" stroke="#444" stroke-width="1" stroke-dasharray="1 1"/><text x="851.6" y="12.6" font-size="6.5" font-weight="bold" fill="#333">F</text><text x="872.3" y="8.7" font-size="13" fill="#4a4a4a" stroke="#4a4a4a" stroke-width=".3">A</text><rect x="899.3" y="-2" width="11.5" height="12.6" fill="none" stroke="#444" stroke-width="1" stroke-dasharray="1 1"/><text x="901" y="8.7" font-size="11" fill="#4a4a4a" stroke="#4a4a4a" stroke-width=".3">T</text><path d="M929 -1 l2.4 2.2 -2.4 0z M928.5 -.5 l2.5 -1.8 2.5 1.8 -2.5 2z" fill="#444"/><path d="M928 5 l2.2 2.4 4.6-5.6" fill="none" stroke="#444" stroke-width="1.3"/><path d="M933.5 7 l3.3-2.2 3.3 2.2 -3.3 3.6z" fill="#444"/><polygon points="947,3 952.5,3 949.75,6.2" fill="#111"/><rect x="958.0" y="0" width="1" height="16" fill="#8c8c8c"/><rect x="959.2" y="0" width="1" height="16" fill="#fafafa"/><rect x="962" y="0.3" width="3" height="1" fill="#b0b0b0"/><rect x="962" y="2.3" width="3" height="1" fill="#b0b0b0"/><rect x="962" y="4.3" width="3" height="1" fill="#b0b0b0"/><rect x="962" y="6.3" width="3" height="1" fill="#b0b0b0"/><rect x="962" y="8.3" width="3" height="1" fill="#b0b0b0"/><rect x="962" y="10.3" width="3" height="1" fill="#b0b0b0"/><rect x="962" y="12.3" width="3" height="1" fill="#b0b0b0"/><rect x="1137.2" y="0" width="23.799999999999955" height="13.5" fill="#f8f8f8"/><rect x="1136.0" y="0" width="1" height="13.5" fill="#707070"/><text x="973.6" y="7.9" font-size="9.3" fill="#3a3a3a">M1</text><text x="1001.8" y="7.9" font-size="9.3" fill="#3a3a3a">M5</text><text x="1027.6" y="7.9" font-size="9.3" fill="#3a3a3a">M15</text><text x="1055.6" y="7.9" font-size="9.3" fill="#3a3a3a">M30</text><text x="1086.8" y="7.9" font-size="9.3" fill="#3a3a3a">H1</text><text x="1113.4" y="7.9" font-size="9.3" fill="#3a3a3a">H4</text><text x="1142.6" y="7.9" font-size="9.3" fill="#3a3a3a">D1</text><text x="1169.6" y="7.9" font-size="9.3" fill="#3a3a3a">W1</text><text x="1196" y="7.9" font-size="9.3" fill="#3a3a3a">MN</text><rect x="1219.0" y="0" width="1" height="16" fill="#8c8c8c"/><rect x="1220.2" y="0" width="1" height="16" fill="#fafafa"/><line x1="1686.6" y1="4.6" x2="1682.3" y2="8.7" stroke="#1f55d4" stroke-width="2.8" stroke-linecap="round"/><circle cx="1689.5" cy="1.2" r="3.9" fill="#f0f1ff" stroke="#2a5ee0" stroke-width="1.3"/><defs><linearGradient id="bb" x1="0" y1="0" x2="0" y2="1"><stop offset="0" stop-color="#fbfbfb"/><stop offset="1" stop-color="#d6d6e2"/></linearGradient></defs><path d="M1724 6.3 l1.2 1.6 .4-2.2z" fill="#8a8a8a"/><ellipse cx="1722.3" cy="1.7" rx="5.8" ry="4.8" fill="url(#bb)" stroke="#a4a4a4" stroke-width=".9"/><path d="M1710.2 8.2 l.4 2.4 2-1.6z" fill="#808080"/><ellipse cx="1713.4" cy="5.4" rx="5.3" ry="3.8" fill="url(#bb)" stroke="#8e8e8e" stroke-width=".9"/></svg></div>
<div id="tp" style="position:absolute;left:0;top:38px;width:216px;height:68px;overflow:hidden;background:#fff"><div style="left:0;top:2px;width:216px;height:64px">
<style>
#tp div{position:absolute;box-sizing:border-box}
#tp .btn{top:0;height:24px;background:linear-gradient(#fb5252,#f04545 45%,#e23636);color:#fff;font-size:12.3px;line-height:24px;text-align:center}
#tp .ul{top:23px;height:2px;border-top:1px solid #8a0c0c;background:#f47a7a}
#tp .pr{top:24px;height:40px;background:linear-gradient(#e23434,#cc1c1c 50%,#b00000)}
#tp .sm{color:#fff;font-weight:bold;font-size:12px;line-height:12px;top:45.3px}
#tp .bg{color:#fff;font-family:"Liberation Serif",serif;font-size:36px;line-height:36px;top:24.2px;transform-origin:0 0;transform:scaleX(.925)}
#tp .sp{color:#fff;font-weight:bold;font-size:12px;line-height:12px;top:29.3px}
#tp .sb{top:1px;height:20px;width:19px;background:linear-gradient(#f6f6f6,#e9e9e9 38%,#d6d6d6 40%,#cdcdcd);border:1px solid #efefef;border-bottom-color:#c4c4c4}
</style>
<div class="pr" style="left:0;width:106px;border-right:1px solid #a80808"></div>
<div class="pr" style="left:108px;width:108px;border-left:1px solid #c21212"></div>
<div class="btn" style="left:0;width:48.5px;border-right:1px solid #cf2020"><span style="display:inline-block;transform:scaleX(.86);position:relative;left:-2.2px;top:-.3px">SELL</span></div>
<div class="ul" style="left:1px;width:44px"></div>
<div style="left:48.5px;top:0;width:115.5px;height:24.2px;background:#fff"></div>
<div class="btn" style="left:164px;width:52px;border-left:1px solid #cf2020"><span style="display:inline-block;transform:scaleX(.9);position:relative;left:-1px;top:-.3px">BUY</span></div>
<div class="ul" style="left:168px;width:44px"></div>
<div style="left:51px;top:0px;width:111px;height:22px;border:1px solid #a9adb8;background:#fff"></div>
<div class="sb" style="left:52.5px"></div>
<div class="sb" style="left:141.3px"></div>
<div style="left:72px;top:1px;width:1px;height:20px;background:#b4b7c0"></div>
<div style="left:140px;top:1px;width:1px;height:20px;background:#b4b7c0"></div>
<div style="left:58.3px;top:9.1px;width:0;height:0;border-left:3.1px solid transparent;border-right:3.1px solid transparent;border-top:3.4px solid #5563c9"></div>
<div style="left:147.3px;top:8.9px;width:0;height:0;border-left:3.1px solid transparent;border-right:3.1px solid transparent;border-bottom:3.4px solid #6a78d4"></div>
<div style="left:100px;top:4.6px;width:37.2px;text-align:right;font-size:12px;line-height:12px;color:#000">1.00</div>
<div class="sm" style="left:20.2px">104</div>
<div class="bg" style="left:45.2px">68</div>
<div class="sp" style="left:84.3px">3</div>
<div class="sm" style="left:130.4px">104</div>
<div class="bg" style="left:155.6px">70</div>
<div class="sp" style="left:194.9px">4</div>
</div></div>

</body></html>
